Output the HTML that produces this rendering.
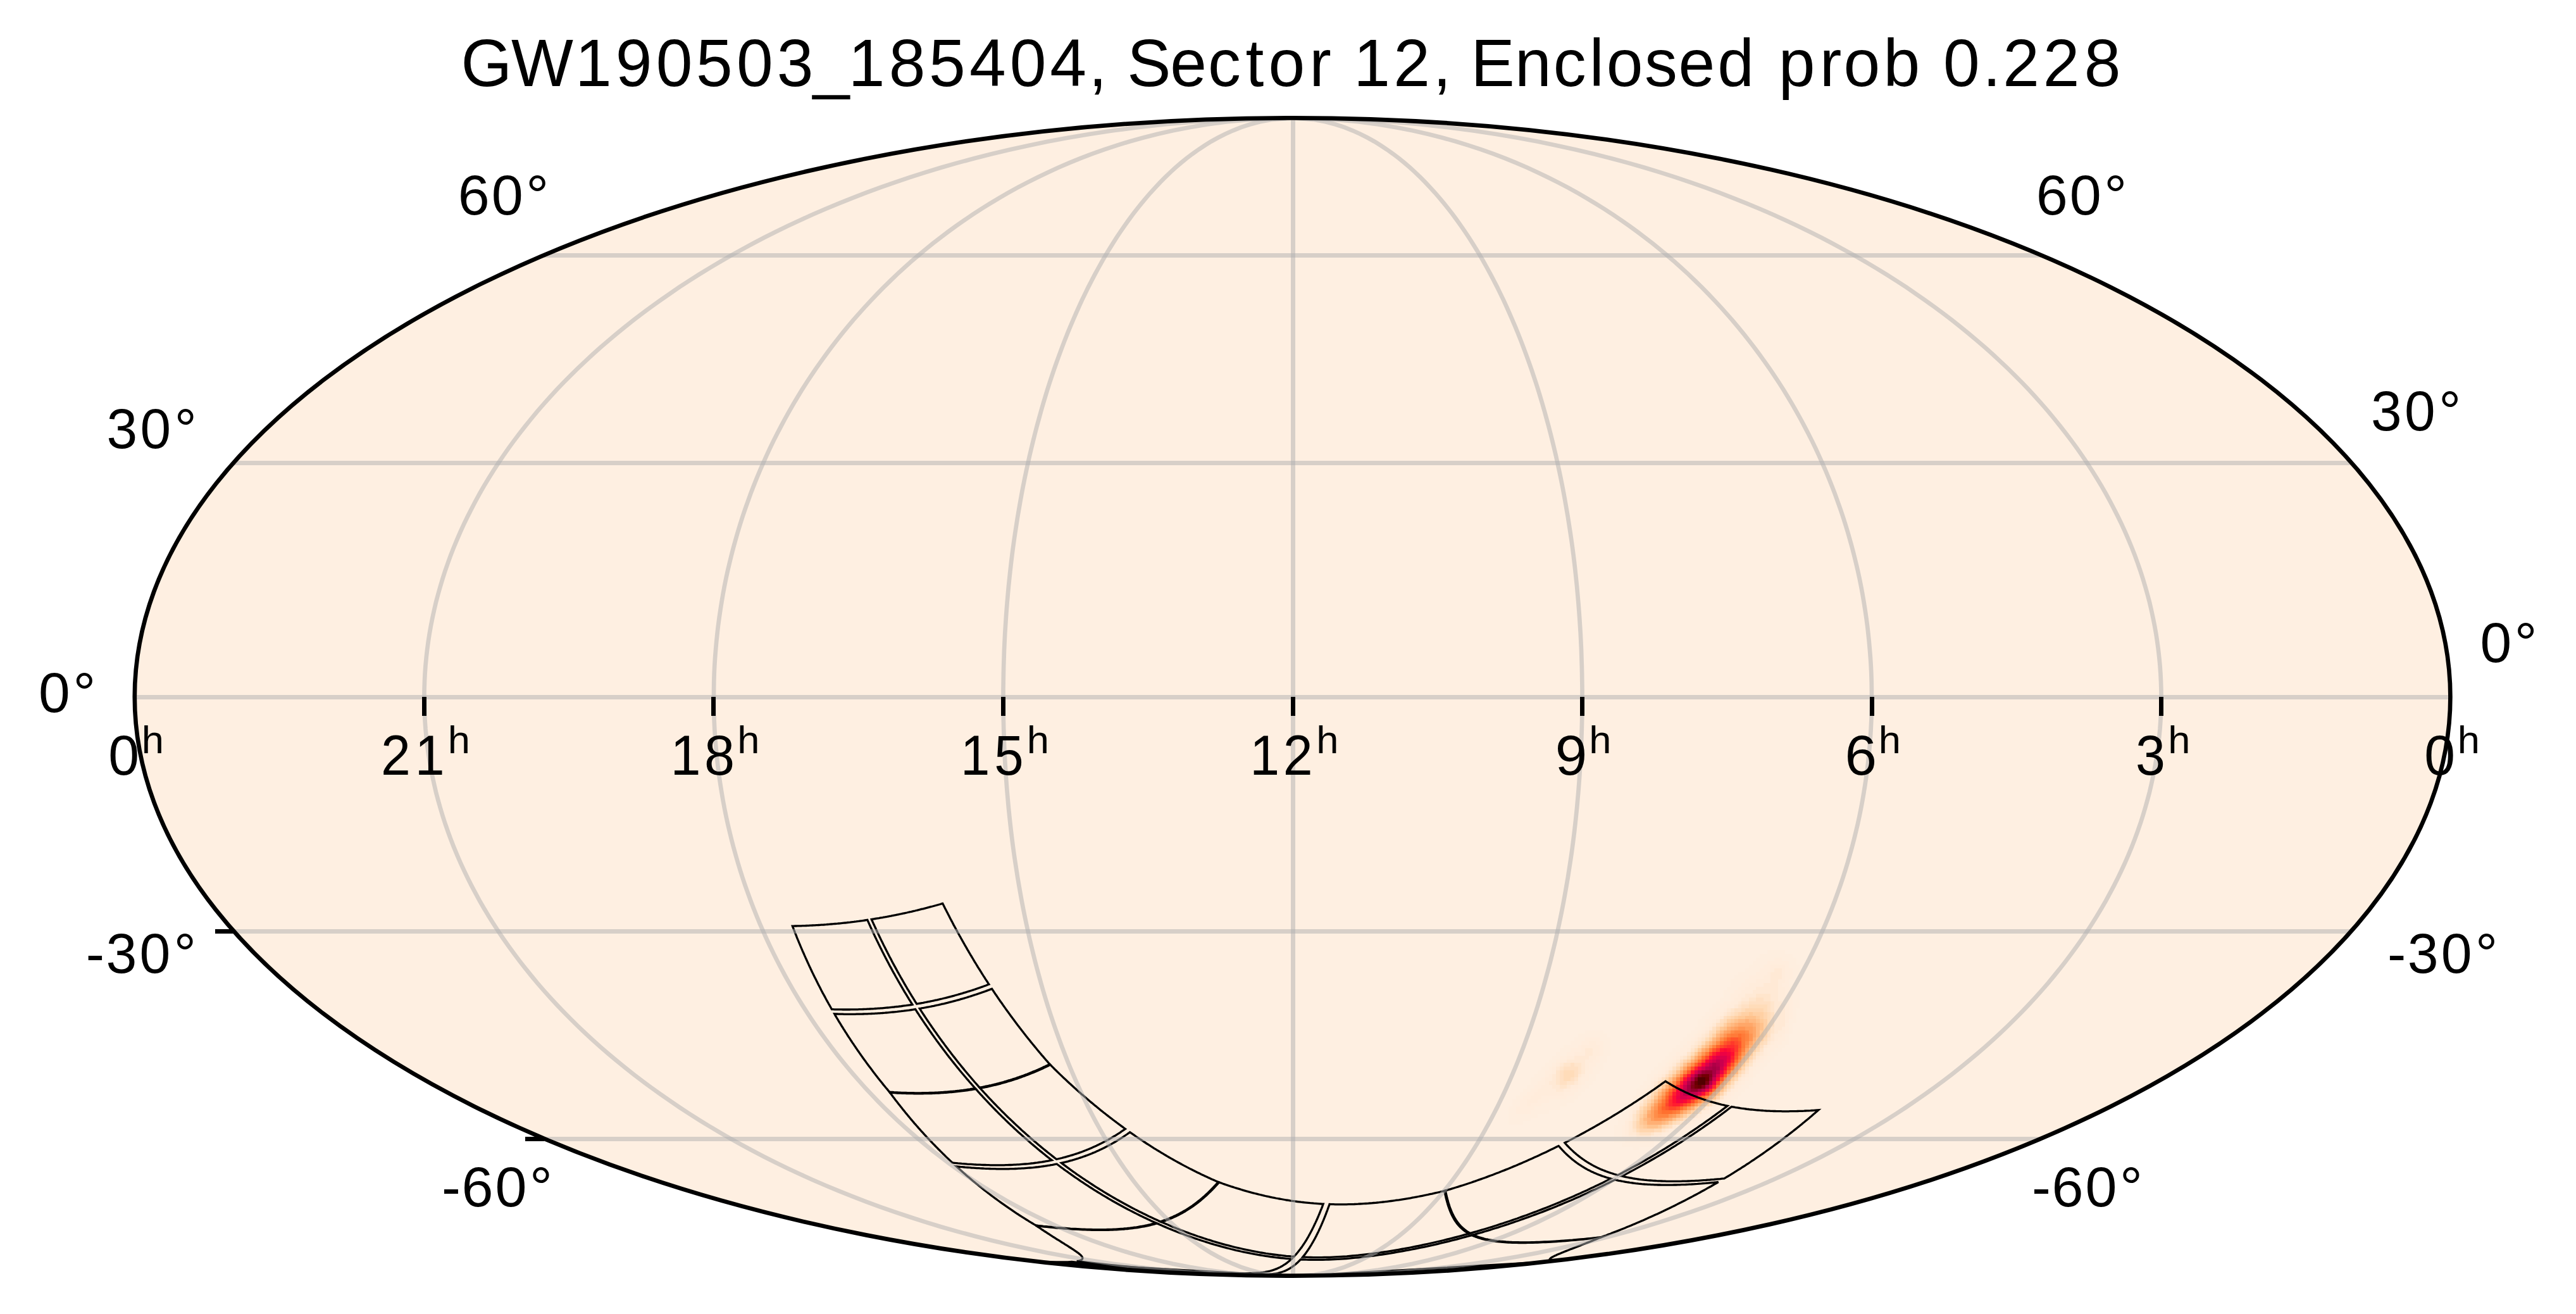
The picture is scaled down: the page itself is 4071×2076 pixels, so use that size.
<!DOCTYPE html>
<html lang="en">
<head>
<meta charset="utf-8">
<title>GW190503_185404, Sector 12, Enclosed prob 0.228</title>
<style>
html,body{margin:0;padding:0;background:#fff;}
body{width:4071px;height:2076px;overflow:hidden;}
svg{display:block;}
text{font-family:"Liberation Sans",sans-serif;fill:#000;}
</style>
</head>
<body>
<svg width="4071" height="2076" viewBox="0 0 4071 2076" role="img" aria-label="Mollweide sky map">
<defs><clipPath id="sky"><ellipse cx="2042.60" cy="1100.95" rx="1829.80" ry="914.65"/></clipPath></defs>
<rect width="4071" height="2076" fill="#ffffff"/>
<ellipse cx="2042.60" cy="1100.95" rx="1829.80" ry="914.65" fill="#feefe1"/>
<g clip-path="url(#sky)">
<g shape-rendering="crispEdges"><path fill="#feeedf" d="M2793 1501h28v6h-28zM2781 1507h52v6h-52zM2775 1513h29v5h-29zM2816 1513h23v5h-23zM2770 1518h23v6h-23zM2827 1518h12v6h-12zM2764 1524h23v6h-23zM2827 1524h17v6h-17zM2758 1530h23v6h-23zM2833 1530h11v6h-11zM2747 1536h28v5h-28zM2833 1536h11v5h-11zM2741 1541h23v6h-23zM2833 1541h11v6h-11zM2735 1547h23v6h-23zM2827 1547h17v6h-17zM2735 1553h17v6h-17zM2827 1553h17v6h-17zM2729 1559h18v5h-18zM2833 1559h11v5h-11zM2724 1564h17v6h-17zM2833 1564h11v6h-11zM2724 1570h11v6h-11zM2833 1570h11v6h-11zM2718 1576h17v6h-17zM2833 1576h11v6h-11zM2712 1582h12v5h-12zM2833 1582h11v5h-11zM2706 1587h12v6h-12zM2833 1587h11v6h-11zM2701 1593h11v6h-11zM2833 1593h6v6h-6zM2695 1599h11v6h-11zM2833 1599h6v6h-6zM2689 1605h12v5h-12zM2833 1605h6v5h-6zM2683 1610h12v6h-12zM2827 1610h12v6h-12zM2683 1616h12v6h-12zM2827 1616h6v6h-6zM2678 1622h11v6h-11zM2827 1622h6v6h-6zM2505 1628h29v5h-29zM2672 1628h11v5h-11zM2827 1628h6v5h-6zM2494 1633h46v6h-46zM2666 1633h12v6h-12zM2821 1633h6v6h-6zM2488 1639h17v6h-17zM2528 1639h17v6h-17zM2660 1639h12v6h-12zM2821 1639h6v6h-6zM2482 1645h17v6h-17zM2534 1645h11v6h-11zM2655 1645h11v6h-11zM2816 1645h11v6h-11zM2471 1651h23v5h-23zM2534 1651h11v5h-11zM2649 1651h11v5h-11zM2810 1651h11v5h-11zM2465 1656h17v6h-17zM2534 1656h11v6h-11zM2643 1656h12v6h-12zM2804 1656h12v6h-12zM2459 1662h17v6h-17zM2534 1662h11v6h-11zM2637 1662h12v6h-12zM2798 1662h12v6h-12zM2453 1668h12v6h-12zM2528 1668h12v6h-12zM2632 1668h11v6h-11zM2793 1668h11v6h-11zM2448 1674h11v5h-11zM2528 1674h12v5h-12zM2626 1674h11v5h-11zM2787 1674h11v5h-11zM2442 1679h11v6h-11zM2522 1679h12v6h-12zM2620 1679h12v6h-12zM2781 1679h12v6h-12zM2436 1685h12v6h-12zM2517 1685h17v6h-17zM2614 1685h12v6h-12zM2775 1685h12v6h-12zM2430 1691h12v6h-12zM2517 1691h11v6h-11zM2609 1691h11v6h-11zM2770 1691h11v6h-11zM2425 1697h17v5h-17zM2511 1697h11v5h-11zM2603 1697h11v5h-11zM2770 1697h5v5h-5zM2419 1702h17v6h-17zM2511 1702h11v6h-11zM2603 1702h6v6h-6zM2764 1702h6v6h-6zM2419 1708h11v6h-11zM2505 1708h12v6h-12zM2597 1708h12v6h-12zM2758 1708h12v6h-12zM2413 1714h12v6h-12zM2499 1714h12v6h-12zM2591 1714h12v6h-12zM2752 1714h12v6h-12zM2407 1720h12v5h-12zM2494 1720h11v5h-11zM2586 1720h11v5h-11zM2747 1720h11v5h-11zM2402 1725h11v6h-11zM2488 1725h11v6h-11zM2586 1725h5v6h-5zM2741 1725h11v6h-11zM2396 1731h11v6h-11zM2476 1731h18v6h-18zM2580 1731h6v6h-6zM2735 1731h12v6h-12zM2390 1737h12v6h-12zM2448 1737h40v6h-40zM2574 1737h12v6h-12zM2729 1737h12v6h-12zM2390 1743h12v5h-12zM2436 1743h40v5h-40zM2568 1743h12v5h-12zM2724 1743h11v5h-11zM2384 1748h12v6h-12zM2425 1748h40v6h-40zM2568 1748h6v6h-6zM2718 1748h11v6h-11zM2384 1754h12v6h-12zM2419 1754h29v6h-29zM2568 1754h6v6h-6zM2706 1754h12v6h-12zM2384 1760h46v6h-46zM2563 1760h11v6h-11zM2695 1760h17v6h-17zM2384 1766h35v5h-35zM2557 1766h11v5h-11zM2689 1766h12v5h-12zM2384 1771h23v6h-23zM2557 1771h11v6h-11zM2678 1771h11v6h-11zM2551 1777h12v6h-12zM2666 1777h17v6h-17zM2551 1783h12v6h-12zM2655 1783h17v6h-17zM2551 1789h12v5h-12zM2643 1789h17v5h-17zM2551 1794h12v6h-12zM2632 1794h17v6h-17zM2551 1800h17v6h-17zM2614 1800h18v6h-18zM2563 1806h51v6h-51zM2580 1812h11v5h-11z"/><path fill="#ffeddd" d="M2804 1513h12v5h-12zM2793 1518h34v6h-34zM2787 1524h11v6h-11zM2821 1524h6v6h-6zM2781 1530h17v6h-17zM2821 1530h12v6h-12zM2775 1536h18v5h-18zM2821 1536h12v5h-12zM2764 1541h23v6h-23zM2821 1541h12v6h-12zM2758 1547h17v6h-17zM2821 1547h6v6h-6zM2752 1553h12v6h-12zM2816 1553h11v6h-11zM2747 1559h11v5h-11zM2821 1559h12v5h-12zM2741 1564h11v6h-11zM2821 1564h12v6h-12zM2735 1570h12v6h-12zM2821 1570h12v6h-12zM2735 1576h6v6h-6zM2827 1576h6v6h-6zM2724 1582h11v5h-11zM2827 1582h6v5h-6zM2718 1587h11v6h-11zM2827 1587h6v6h-6zM2712 1593h12v6h-12zM2827 1593h6v6h-6zM2706 1599h12v6h-12zM2827 1599h6v6h-6zM2701 1605h11v5h-11zM2827 1605h6v5h-6zM2695 1610h11v6h-11zM2695 1616h6v6h-6zM2821 1616h6v6h-6zM2689 1622h6v6h-6zM2821 1622h6v6h-6zM2683 1628h6v5h-6zM2821 1628h6v5h-6zM2678 1633h5v6h-5zM2816 1633h5v6h-5zM2505 1639h23v6h-23zM2672 1639h6v6h-6zM2810 1639h11v6h-11zM2499 1645h12v6h-12zM2522 1645h12v6h-12zM2666 1645h6v6h-6zM2804 1645h12v6h-12zM2494 1651h5v5h-5zM2528 1651h6v5h-6zM2660 1651h12v5h-12zM2798 1651h12v5h-12zM2482 1656h17v6h-17zM2528 1656h6v6h-6zM2655 1656h11v6h-11zM2793 1656h11v6h-11zM2476 1662h12v6h-12zM2528 1662h6v6h-6zM2649 1662h11v6h-11zM2793 1662h5v6h-5zM2465 1668h11v6h-11zM2522 1668h6v6h-6zM2643 1668h6v6h-6zM2787 1668h6v6h-6zM2459 1674h6v5h-6zM2517 1674h11v5h-11zM2637 1674h6v5h-6zM2781 1674h6v5h-6zM2453 1679h6v6h-6zM2511 1679h11v6h-11zM2632 1679h5v6h-5zM2775 1679h6v6h-6zM2448 1685h5v6h-5zM2511 1685h6v6h-6zM2626 1685h6v6h-6zM2770 1685h5v6h-5zM2442 1691h11v6h-11zM2505 1691h12v6h-12zM2620 1691h6v6h-6zM2764 1691h6v6h-6zM2442 1697h6v5h-6zM2505 1697h6v5h-6zM2614 1697h6v5h-6zM2764 1697h6v5h-6zM2436 1702h6v6h-6zM2499 1702h12v6h-12zM2609 1702h5v6h-5zM2758 1702h6v6h-6zM2430 1708h12v6h-12zM2499 1708h6v6h-6zM2752 1708h6v6h-6zM2425 1714h11v6h-11zM2494 1714h5v6h-5zM2603 1714h6v6h-6zM2747 1714h5v6h-5zM2419 1720h11v5h-11zM2482 1720h12v5h-12zM2597 1720h6v5h-6zM2741 1720h6v5h-6zM2413 1725h12v6h-12zM2471 1725h17v6h-17zM2591 1725h6v6h-6zM2735 1725h6v6h-6zM2407 1731h12v6h-12zM2436 1731h40v6h-40zM2586 1731h5v6h-5zM2729 1731h6v6h-6zM2402 1737h11v6h-11zM2430 1737h18v6h-18zM2586 1737h5v6h-5zM2724 1737h5v6h-5zM2402 1743h11v5h-11zM2419 1743h17v5h-17zM2580 1743h6v5h-6zM2718 1743h6v5h-6zM2396 1748h29v6h-29zM2574 1748h6v6h-6zM2706 1748h12v6h-12zM2396 1754h23v6h-23zM2574 1754h6v6h-6zM2701 1754h5v6h-5zM2689 1760h6v6h-6zM2568 1766h6v5h-6zM2678 1766h11v5h-11zM2672 1771h6v6h-6zM2563 1777h5v6h-5zM2660 1777h6v6h-6zM2563 1783h5v6h-5zM2649 1783h6v6h-6zM2563 1789h5v5h-5zM2632 1789h11v5h-11zM2563 1794h11v6h-11zM2620 1794h12v6h-12zM2568 1800h46v6h-46z"/><path fill="#ffecdb" d="M2798 1524h23v6h-23zM2798 1530h6v6h-6zM2816 1530h5v6h-5zM2793 1536h5v5h-5zM2816 1536h5v5h-5zM2787 1541h11v6h-11zM2816 1541h5v6h-5zM2775 1547h23v6h-23zM2810 1547h11v6h-11zM2764 1553h23v6h-23zM2810 1553h6v6h-6zM2758 1559h17v5h-17zM2810 1559h11v5h-11zM2752 1564h18v6h-18zM2810 1564h11v6h-11zM2747 1570h11v6h-11zM2810 1570h11v6h-11zM2741 1576h11v6h-11zM2810 1576h17v6h-17zM2735 1582h12v5h-12zM2816 1582h11v5h-11zM2729 1587h12v6h-12zM2821 1587h6v6h-6zM2724 1593h5v6h-5zM2821 1593h6v6h-6zM2718 1599h6v6h-6zM2821 1599h6v6h-6zM2712 1605h6v5h-6zM2821 1605h6v5h-6zM2706 1610h6v6h-6zM2821 1610h6v6h-6zM2701 1616h5v6h-5zM2695 1622h6v6h-6zM2816 1622h5v6h-5zM2689 1628h6v5h-6zM2810 1628h11v5h-11zM2683 1633h6v6h-6zM2804 1633h12v6h-12zM2678 1639h5v6h-5zM2804 1639h6v6h-6zM2511 1645h11v6h-11zM2672 1645h6v6h-6zM2798 1645h6v6h-6zM2499 1651h29v5h-29zM2793 1651h5v5h-5zM2499 1656h6v6h-6zM2517 1656h11v6h-11zM2666 1656h6v6h-6zM2787 1656h6v6h-6zM2488 1662h17v6h-17zM2517 1662h11v6h-11zM2660 1662h6v6h-6zM2787 1662h6v6h-6zM2476 1668h12v6h-12zM2511 1668h11v6h-11zM2649 1668h6v6h-6zM2781 1668h6v6h-6zM2465 1674h11v5h-11zM2505 1674h12v5h-12zM2643 1674h6v5h-6zM2775 1674h6v5h-6zM2459 1679h6v6h-6zM2505 1679h6v6h-6zM2637 1679h6v6h-6zM2770 1679h5v6h-5zM2453 1685h6v6h-6zM2505 1685h6v6h-6zM2632 1685h5v6h-5zM2764 1685h6v6h-6zM2453 1691h6v6h-6zM2626 1691h6v6h-6zM2448 1697h5v5h-5zM2499 1697h6v5h-6zM2620 1697h6v5h-6zM2758 1697h6v5h-6zM2442 1702h11v6h-11zM2494 1702h5v6h-5zM2614 1702h6v6h-6zM2752 1702h6v6h-6zM2442 1708h6v6h-6zM2494 1708h5v6h-5zM2609 1708h5v6h-5zM2747 1708h5v6h-5zM2436 1714h17v6h-17zM2482 1714h12v6h-12zM2609 1714h5v6h-5zM2741 1714h6v6h-6zM2430 1720h29v5h-29zM2471 1720h11v5h-11zM2603 1720h6v5h-6zM2735 1720h6v5h-6zM2425 1725h46v6h-46zM2597 1725h6v6h-6zM2729 1725h6v6h-6zM2419 1731h17v6h-17zM2591 1731h6v6h-6zM2724 1731h5v6h-5zM2413 1737h17v6h-17zM2718 1737h6v6h-6zM2413 1743h6v5h-6zM2586 1743h5v5h-5zM2712 1743h6v5h-6zM2580 1748h6v6h-6zM2701 1748h5v6h-5zM2689 1754h12v6h-12zM2574 1760h6v6h-6zM2683 1760h6v6h-6zM2574 1766h6v5h-6zM2672 1766h6v5h-6zM2568 1771h6v6h-6zM2666 1771h6v6h-6zM2568 1777h6v6h-6zM2649 1777h11v6h-11zM2568 1783h6v6h-6zM2637 1783h12v6h-12zM2568 1789h6v5h-6zM2626 1789h6v5h-6zM2574 1794h12v6h-12zM2609 1794h11v6h-11z"/><path fill="#ffe9d5" d="M2804 1530h12v6h-12zM2798 1536h18v5h-18zM2798 1541h18v6h-18zM2798 1547h12v6h-12zM2787 1553h23v6h-23zM2775 1559h35v5h-35zM2770 1564h40v6h-40zM2758 1570h17v6h-17zM2798 1570h12v6h-12zM2752 1576h12v6h-12zM2798 1576h12v6h-12zM2747 1582h5v5h-5zM2804 1582h12v5h-12zM2741 1587h6v6h-6zM2804 1587h17v6h-17zM2729 1593h6v6h-6zM2804 1593h17v6h-17zM2724 1599h5v6h-5zM2804 1599h17v6h-17zM2718 1605h6v5h-6zM2804 1605h17v5h-17zM2712 1610h6v6h-6zM2804 1610h17v6h-17zM2706 1616h6v6h-6zM2804 1616h17v6h-17zM2701 1622h5v6h-5zM2804 1622h12v6h-12zM2695 1628h6v5h-6zM2804 1628h6v5h-6zM2689 1633h6v6h-6zM2798 1633h6v6h-6zM2683 1639h6v6h-6zM2798 1639h6v6h-6zM2678 1645h5v6h-5zM2793 1645h5v6h-5zM2672 1651h6v5h-6zM2787 1651h6v5h-6zM2505 1656h12v6h-12zM2505 1662h12v6h-12zM2781 1662h6v6h-6zM2488 1668h23v6h-23zM2655 1668h5v6h-5zM2775 1668h6v6h-6zM2476 1674h29v5h-29zM2649 1674h6v5h-6zM2770 1674h5v5h-5zM2465 1679h6v6h-6zM2499 1679h6v6h-6zM2643 1679h6v6h-6zM2459 1685h6v6h-6zM2499 1685h6v6h-6zM2637 1685h6v6h-6zM2499 1691h6v6h-6zM2632 1691h5v6h-5zM2758 1691h6v6h-6zM2453 1697h6v5h-6zM2494 1697h5v5h-5zM2626 1697h6v5h-6zM2752 1697h6v5h-6zM2453 1702h6v6h-6zM2620 1702h6v6h-6zM2747 1702h5v6h-5zM2448 1708h11v6h-11zM2488 1708h6v6h-6zM2614 1708h6v6h-6zM2741 1708h6v6h-6zM2453 1714h12v6h-12zM2476 1714h6v6h-6zM2459 1720h12v5h-12zM2603 1725h6v6h-6zM2597 1731h6v6h-6zM2591 1737h6v6h-6zM2706 1743h6v5h-6zM2586 1748h5v6h-5zM2695 1748h6v6h-6zM2580 1754h6v6h-6zM2678 1760h5v6h-5zM2666 1766h6v5h-6zM2574 1771h6v6h-6zM2660 1771h6v6h-6zM2574 1777h6v6h-6zM2643 1777h6v6h-6zM2574 1783h6v6h-6zM2632 1783h5v6h-5zM2574 1789h12v5h-12zM2614 1789h12v5h-12zM2586 1794h23v6h-23z"/><path fill="#ffe5cc" d="M2775 1570h23v6h-23zM2764 1576h11v6h-11zM2787 1576h11v6h-11zM2752 1582h12v5h-12zM2798 1582h6v5h-6zM2747 1587h5v6h-5zM2798 1587h6v6h-6zM2735 1593h6v6h-6zM2798 1593h6v6h-6zM2729 1599h6v6h-6zM2798 1622h6v6h-6zM2798 1628h6v5h-6zM2695 1633h6v6h-6zM2689 1639h6v6h-6zM2793 1639h5v6h-5zM2683 1645h6v6h-6zM2678 1651h5v5h-5zM2672 1656h6v6h-6zM2781 1656h6v6h-6zM2666 1662h6v6h-6zM2775 1662h6v6h-6zM2660 1668h6v6h-6zM2471 1679h11v6h-11zM2488 1679h11v6h-11zM2764 1679h6v6h-6zM2465 1685h6v6h-6zM2494 1685h5v6h-5zM2758 1685h6v6h-6zM2459 1691h6v6h-6zM2494 1691h5v6h-5zM2459 1697h6v5h-6zM2459 1702h6v6h-6zM2488 1702h6v6h-6zM2459 1708h6v6h-6zM2476 1708h12v6h-12zM2465 1714h11v6h-11zM2614 1714h6v6h-6zM2735 1714h6v6h-6zM2609 1720h5v5h-5zM2729 1720h6v5h-6zM2724 1725h5v6h-5zM2718 1731h6v6h-6zM2712 1737h6v6h-6zM2591 1743h6v5h-6zM2683 1754h6v6h-6zM2580 1760h6v6h-6zM2580 1766h6v5h-6zM2655 1771h5v6h-5zM2580 1783h6v6h-6zM2626 1783h6v6h-6zM2586 1789h5v5h-5zM2609 1789h5v5h-5z"/><path fill="#ffe0c3" d="M2775 1576h12v6h-12zM2764 1582h34v5h-34zM2752 1587h12v6h-12zM2793 1587h5v6h-5zM2741 1593h11v6h-11zM2793 1593h5v6h-5zM2735 1599h6v6h-6zM2798 1599h6v6h-6zM2724 1605h5v5h-5zM2798 1605h6v5h-6zM2718 1610h6v6h-6zM2798 1610h6v6h-6zM2712 1616h6v6h-6zM2798 1616h6v6h-6zM2706 1622h6v6h-6zM2701 1628h5v5h-5zM2793 1628h5v5h-5zM2793 1633h5v6h-5zM2787 1645h6v6h-6zM2781 1651h6v5h-6zM2770 1668h5v6h-5zM2655 1674h5v5h-5zM2764 1674h6v5h-6zM2482 1679h6v6h-6zM2649 1679h6v6h-6zM2471 1685h23v6h-23zM2643 1685h6v6h-6zM2465 1691h6v6h-6zM2488 1691h6v6h-6zM2637 1691h6v6h-6zM2752 1691h6v6h-6zM2465 1697h6v5h-6zM2488 1697h6v5h-6zM2632 1697h5v5h-5zM2747 1697h5v5h-5zM2465 1702h6v6h-6zM2482 1702h6v6h-6zM2626 1702h6v6h-6zM2465 1708h11v6h-11zM2620 1708h6v6h-6zM2603 1731h6v6h-6zM2597 1737h6v6h-6zM2701 1743h5v5h-5zM2689 1748h6v6h-6zM2586 1754h5v6h-5zM2672 1760h6v6h-6zM2660 1766h6v5h-6zM2580 1771h6v6h-6zM2649 1771h6v6h-6zM2580 1777h6v6h-6zM2637 1777h6v6h-6zM2591 1789h18v5h-18z"/><path fill="#ffdcb9" d="M2764 1587h29v6h-29zM2752 1593h6v6h-6zM2787 1593h6v6h-6zM2741 1599h6v6h-6zM2793 1599h5v6h-5zM2729 1605h6v5h-6zM2793 1605h5v5h-5zM2724 1610h5v6h-5zM2793 1610h5v6h-5zM2718 1616h6v6h-6zM2793 1616h5v6h-5zM2793 1622h5v6h-5zM2706 1628h6v5h-6zM2701 1633h5v6h-5zM2695 1639h6v6h-6zM2787 1639h6v6h-6zM2689 1645h6v6h-6zM2781 1645h6v6h-6zM2683 1651h6v5h-6zM2678 1656h5v6h-5zM2775 1656h6v6h-6zM2672 1662h6v6h-6zM2770 1662h5v6h-5zM2666 1668h6v6h-6zM2758 1679h6v6h-6zM2471 1691h17v6h-17zM2471 1697h17v5h-17zM2471 1702h11v6h-11zM2741 1702h6v6h-6zM2735 1708h6v6h-6zM2620 1714h6v6h-6zM2729 1714h6v6h-6zM2614 1720h6v5h-6zM2609 1725h5v6h-5zM2706 1737h6v6h-6zM2597 1743h6v5h-6zM2591 1748h6v6h-6zM2678 1754h5v6h-5zM2586 1760h5v6h-5zM2666 1760h6v6h-6zM2586 1766h5v5h-5zM2643 1771h6v6h-6zM2632 1777h5v6h-5zM2586 1783h5v6h-5zM2614 1783h12v6h-12z"/><path fill="#ffd6af" d="M2758 1593h29v6h-29zM2747 1599h5v6h-5zM2787 1599h6v6h-6zM2735 1605h6v5h-6zM2787 1605h6v5h-6zM2712 1622h6v6h-6zM2787 1628h6v5h-6zM2787 1633h6v6h-6zM2775 1651h6v5h-6zM2764 1668h6v6h-6zM2660 1674h6v5h-6zM2655 1679h5v6h-5zM2649 1685h6v6h-6zM2752 1685h6v6h-6zM2643 1691h6v6h-6zM2747 1691h5v6h-5zM2637 1697h6v5h-6zM2632 1702h5v6h-5zM2626 1708h6v6h-6zM2724 1720h5v5h-5zM2718 1725h6v6h-6zM2609 1731h5v6h-5zM2712 1731h6v6h-6zM2603 1737h6v6h-6zM2695 1743h6v5h-6zM2683 1748h6v6h-6zM2591 1754h6v6h-6zM2655 1766h5v5h-5zM2586 1771h5v6h-5zM2586 1777h5v6h-5zM2626 1777h6v6h-6zM2591 1783h23v6h-23z"/><path fill="#ffd0a4" d="M2752 1599h12v6h-12zM2770 1599h17v6h-17zM2741 1605h6v5h-6zM2781 1605h6v5h-6zM2729 1610h6v6h-6zM2787 1610h6v6h-6zM2724 1616h5v6h-5zM2787 1616h6v6h-6zM2787 1622h6v6h-6zM2706 1633h6v6h-6zM2701 1639h5v6h-5zM2781 1639h6v6h-6zM2770 1656h5v6h-5zM2758 1674h6v5h-6zM2741 1697h6v5h-6zM2735 1702h6v6h-6zM2614 1725h6v6h-6zM2701 1737h5v6h-5zM2597 1748h6v6h-6zM2672 1754h6v6h-6zM2591 1760h6v6h-6zM2660 1760h6v6h-6zM2649 1766h6v5h-6zM2637 1771h6v6h-6zM2591 1777h6v6h-6z"/><path fill="#ffca99" d="M2764 1599h6v6h-6zM2747 1605h11v5h-11zM2775 1605h6v5h-6zM2735 1610h6v6h-6zM2781 1610h6v6h-6zM2718 1622h6v6h-6zM2712 1628h6v5h-6zM2781 1628h6v5h-6zM2781 1633h6v6h-6zM2695 1645h6v6h-6zM2775 1645h6v6h-6zM2689 1651h6v5h-6zM2683 1656h6v6h-6zM2678 1662h5v6h-5zM2764 1662h6v6h-6zM2672 1668h6v6h-6zM2666 1674h6v5h-6zM2752 1679h6v6h-6zM2632 1708h5v6h-5zM2729 1708h6v6h-6zM2626 1714h6v6h-6zM2724 1714h5v6h-5zM2620 1720h6v5h-6zM2609 1737h5v6h-5zM2603 1743h6v5h-6zM2689 1743h6v5h-6zM2678 1748h5v6h-5zM2597 1754h6v6h-6zM2591 1766h6v5h-6zM2591 1771h6v6h-6zM2597 1777h6v6h-6zM2620 1777h6v6h-6z"/><path fill="#ffc28d" d="M2758 1605h17v5h-17zM2741 1610h6v6h-6zM2775 1610h6v6h-6zM2729 1616h6v6h-6zM2781 1616h6v6h-6zM2724 1622h5v6h-5zM2781 1622h6v6h-6zM2775 1639h6v6h-6zM2770 1651h5v5h-5zM2764 1656h6v6h-6zM2758 1668h6v6h-6zM2660 1679h6v6h-6zM2655 1685h5v6h-5zM2747 1685h5v6h-5zM2649 1691h6v6h-6zM2643 1697h6v5h-6zM2637 1702h6v6h-6zM2718 1720h6v5h-6zM2712 1725h6v6h-6zM2614 1731h6v6h-6zM2706 1731h6v6h-6zM2603 1748h6v6h-6zM2666 1754h6v6h-6zM2597 1760h6v6h-6zM2655 1760h5v6h-5zM2643 1766h6v5h-6zM2597 1771h6v6h-6zM2632 1771h5v6h-5zM2603 1777h17v6h-17z"/><path fill="#ffb981" d="M2747 1610h11v6h-11zM2764 1610h11v6h-11zM2735 1616h6v6h-6zM2775 1616h6v6h-6zM2775 1622h6v6h-6zM2718 1628h6v5h-6zM2775 1628h6v5h-6zM2712 1633h6v6h-6zM2775 1633h6v6h-6zM2706 1639h6v6h-6zM2701 1645h5v6h-5zM2770 1645h5v6h-5zM2695 1651h6v5h-6zM2752 1674h6v5h-6zM2741 1691h6v6h-6zM2735 1697h6v5h-6zM2620 1725h6v6h-6zM2695 1737h6v6h-6zM2609 1743h5v5h-5zM2683 1743h6v5h-6zM2597 1766h6v5h-6zM2626 1771h6v6h-6z"/><path fill="#ffb075" d="M2758 1610h6v6h-6zM2741 1616h6v6h-6zM2770 1616h5v6h-5zM2729 1622h6v6h-6zM2770 1639h5v6h-5zM2764 1651h6v5h-6zM2689 1656h6v6h-6zM2683 1662h6v6h-6zM2758 1662h6v6h-6zM2678 1668h5v6h-5zM2672 1674h6v5h-6zM2747 1679h5v6h-5zM2729 1702h6v6h-6zM2637 1708h6v6h-6zM2724 1708h5v6h-5zM2632 1714h5v6h-5zM2626 1720h6v5h-6zM2614 1737h6v6h-6zM2672 1748h6v6h-6zM2603 1754h6v6h-6zM2660 1754h6v6h-6zM2649 1760h6v6h-6zM2603 1766h6v5h-6zM2637 1766h6v5h-6zM2603 1771h23v6h-23z"/><path fill="#ffa769" d="M2747 1616h23v6h-23zM2735 1622h6v6h-6zM2770 1622h5v6h-5zM2724 1628h5v5h-5zM2770 1628h5v5h-5zM2718 1633h6v6h-6zM2770 1633h5v6h-5zM2712 1639h6v6h-6zM2706 1645h6v6h-6zM2764 1645h6v6h-6zM2758 1656h6v6h-6zM2752 1668h6v6h-6zM2666 1679h6v6h-6zM2660 1685h6v6h-6zM2741 1685h6v6h-6zM2655 1691h5v6h-5zM2649 1697h6v5h-6zM2643 1702h6v6h-6zM2718 1714h6v6h-6zM2620 1731h6v6h-6zM2701 1731h5v6h-5zM2689 1737h6v6h-6zM2609 1748h5v6h-5zM2603 1760h6v6h-6zM2632 1766h5v5h-5z"/><path fill="#ff9f5e" d="M2741 1622h6v6h-6zM2758 1622h12v6h-12zM2729 1628h6v5h-6zM2764 1628h6v5h-6zM2701 1651h5v5h-5zM2695 1656h6v6h-6zM2735 1691h6v6h-6zM2712 1720h6v5h-6zM2626 1725h6v6h-6zM2706 1725h6v6h-6zM2614 1743h6v5h-6zM2678 1743h5v5h-5zM2666 1748h6v6h-6zM2609 1754h5v6h-5zM2655 1754h5v6h-5zM2609 1760h5v6h-5zM2643 1760h6v6h-6zM2609 1766h5v5h-5zM2626 1766h6v5h-6z"/><path fill="#ff9654" d="M2747 1622h11v6h-11zM2724 1633h5v6h-5zM2764 1633h6v6h-6zM2764 1639h6v6h-6zM2758 1651h6v5h-6zM2689 1662h6v6h-6zM2752 1662h6v6h-6zM2683 1668h6v6h-6zM2678 1674h5v5h-5zM2747 1674h5v5h-5zM2729 1697h6v5h-6zM2637 1714h6v6h-6zM2632 1720h5v5h-5zM2620 1737h6v6h-6zM2614 1748h6v6h-6zM2637 1760h6v6h-6zM2614 1766h12v5h-12z"/><path fill="#ff8d49" d="M2735 1628h6v5h-6zM2758 1628h6v5h-6zM2718 1639h6v6h-6zM2712 1645h6v6h-6zM2758 1645h6v6h-6zM2672 1679h6v6h-6zM2741 1679h6v6h-6zM2724 1702h5v6h-5zM2643 1708h6v6h-6zM2626 1731h6v6h-6zM2695 1731h6v6h-6zM2683 1737h6v6h-6zM2614 1754h6v6h-6zM2614 1760h6v6h-6z"/><path fill="#ff8440" d="M2741 1628h17v5h-17zM2729 1633h6v6h-6zM2758 1633h6v6h-6zM2758 1639h6v6h-6zM2706 1651h6v5h-6zM2752 1656h6v6h-6zM2747 1668h5v6h-5zM2666 1685h6v6h-6zM2660 1691h6v6h-6zM2655 1697h5v5h-5zM2649 1702h6v6h-6zM2718 1708h6v6h-6zM2620 1743h6v5h-6zM2672 1743h6v5h-6zM2660 1748h6v6h-6zM2649 1754h6v6h-6zM2620 1760h17v6h-17z"/><path fill="#ff7a38" d="M2735 1633h12v6h-12zM2752 1633h6v6h-6zM2724 1639h5v6h-5zM2752 1639h6v6h-6zM2752 1645h6v6h-6zM2752 1651h6v5h-6zM2701 1656h5v6h-5zM2695 1662h6v6h-6zM2735 1685h6v6h-6zM2712 1714h6v6h-6zM2632 1725h5v6h-5zM2701 1725h5v6h-5zM2626 1737h6v6h-6zM2620 1748h6v6h-6zM2620 1754h6v6h-6zM2643 1754h6v6h-6z"/><path fill="#ff702f" d="M2747 1633h5v6h-5zM2718 1645h6v6h-6zM2747 1662h5v6h-5zM2689 1668h6v6h-6zM2683 1674h6v5h-6zM2741 1674h6v5h-6zM2729 1691h6v6h-6zM2643 1714h6v6h-6zM2637 1720h6v5h-6zM2706 1720h6v5h-6zM2689 1731h6v6h-6zM2678 1737h5v6h-5zM2626 1743h6v5h-6zM2655 1748h5v6h-5zM2626 1754h17v6h-17z"/><path fill="#ff642a" d="M2729 1639h6v6h-6zM2747 1639h5v6h-5zM2712 1651h6v5h-6zM2747 1656h5v6h-5zM2678 1679h5v6h-5zM2724 1697h5v5h-5zM2649 1708h6v6h-6zM2632 1731h5v6h-5zM2666 1743h6v5h-6zM2626 1748h6v6h-6z"/><path fill="#ff562a" d="M2735 1639h12v6h-12zM2724 1645h5v6h-5zM2747 1645h5v6h-5zM2747 1651h5v5h-5zM2706 1656h6v6h-6zM2741 1668h6v6h-6zM2735 1679h6v6h-6zM2672 1685h6v6h-6zM2666 1691h6v6h-6zM2655 1702h5v6h-5zM2718 1702h6v6h-6zM2637 1725h6v6h-6zM2632 1737h5v6h-5zM2632 1748h5v6h-5zM2649 1748h6v6h-6z"/><path fill="#ff482a" d="M2729 1645h6v6h-6zM2741 1645h6v6h-6zM2718 1651h6v5h-6zM2701 1662h5v6h-5zM2741 1662h6v6h-6zM2695 1668h6v6h-6zM2689 1674h6v5h-6zM2729 1685h6v6h-6zM2660 1697h6v5h-6zM2712 1708h6v6h-6zM2643 1720h6v5h-6zM2695 1725h6v6h-6zM2683 1731h6v6h-6zM2672 1737h6v6h-6zM2632 1743h5v5h-5zM2660 1743h6v5h-6zM2637 1748h12v6h-12z"/><path fill="#ff3a2a" d="M2735 1645h6v6h-6zM2724 1651h5v5h-5zM2741 1651h6v5h-6zM2712 1656h6v6h-6zM2741 1656h6v6h-6zM2683 1679h6v6h-6zM2637 1731h6v6h-6z"/><path fill="#ff2c2d" d="M2729 1651h12v5h-12zM2735 1674h6v5h-6zM2724 1691h5v6h-5zM2649 1714h6v6h-6zM2706 1714h6v6h-6zM2701 1720h5v5h-5zM2637 1737h6v6h-6zM2637 1743h6v5h-6zM2655 1743h5v5h-5z"/><path fill="#ff1e2f" d="M2735 1656h6v6h-6zM2706 1662h6v6h-6zM2735 1668h6v6h-6zM2729 1679h6v6h-6zM2678 1685h5v6h-5zM2718 1697h6v5h-6zM2655 1708h5v6h-5zM2643 1725h6v6h-6zM2666 1737h6v6h-6zM2643 1743h12v5h-12z"/><path fill="#ff1032" d="M2718 1656h6v6h-6zM2729 1656h6v6h-6zM2735 1662h6v6h-6zM2701 1668h5v6h-5zM2672 1691h6v6h-6zM2666 1697h6v5h-6zM2660 1702h6v6h-6zM2689 1725h6v6h-6zM2643 1731h6v6h-6zM2678 1731h5v6h-5zM2643 1737h6v6h-6z"/><path fill="#fb0837" d="M2724 1656h5v6h-5zM2712 1662h6v6h-6zM2695 1674h6v5h-6zM2689 1679h6v6h-6zM2724 1685h5v6h-5zM2712 1702h6v6h-6zM2649 1720h6v5h-6zM2660 1737h6v6h-6z"/><path fill="#f3053e" d="M2729 1662h6v6h-6zM2729 1674h6v5h-6zM2655 1714h5v6h-5zM2649 1725h6v6h-6zM2672 1731h6v6h-6zM2649 1737h11v6h-11z"/><path fill="#ec0244" d="M2718 1662h11v6h-11zM2706 1668h6v6h-6zM2729 1668h6v6h-6zM2683 1685h6v6h-6zM2718 1691h6v6h-6zM2706 1708h6v6h-6zM2695 1720h6v5h-6zM2649 1731h6v6h-6z"/><path fill="#e4004a" d="M2701 1674h5v5h-5zM2724 1679h5v6h-5zM2712 1697h6v5h-6zM2660 1708h6v6h-6zM2701 1714h5v6h-5zM2683 1725h6v6h-6zM2666 1731h6v6h-6z"/><path fill="#db004b" d="M2712 1668h17v6h-17zM2724 1674h5v5h-5zM2695 1679h6v6h-6zM2678 1691h5v6h-5zM2666 1702h6v6h-6zM2655 1720h5v5h-5zM2655 1725h5v6h-5zM2655 1731h11v6h-11z"/><path fill="#d3004c" d="M2706 1674h6v5h-6zM2689 1685h6v6h-6zM2718 1685h6v6h-6zM2672 1697h6v5h-6z"/><path fill="#ca004e" d="M2718 1674h6v5h-6zM2718 1679h6v6h-6zM2706 1702h6v6h-6zM2660 1714h6v6h-6zM2678 1725h5v6h-5z"/><path fill="#c1004c" d="M2712 1674h6v5h-6zM2701 1679h5v6h-5zM2712 1691h6v6h-6zM2660 1720h6v5h-6zM2689 1720h6v5h-6zM2660 1725h6v6h-6zM2672 1725h6v6h-6z"/><path fill="#b8004a" d="M2712 1679h6v6h-6zM2695 1685h6v6h-6zM2683 1691h6v6h-6zM2666 1708h6v6h-6zM2666 1725h6v6h-6z"/><path fill="#af0047" d="M2706 1679h6v6h-6zM2701 1685h5v6h-5zM2712 1685h6v6h-6zM2706 1697h6v5h-6zM2672 1702h6v6h-6zM2701 1708h5v6h-5zM2695 1714h6v6h-6z"/><path fill="#a60042" d="M2706 1685h6v6h-6zM2706 1691h6v6h-6zM2678 1697h5v5h-5zM2666 1714h6v6h-6zM2666 1720h6v5h-6zM2683 1720h6v5h-6z"/><path fill="#9d0037" d="M2689 1691h6v6h-6z"/><path fill="#95002c" d="M2695 1691h11v6h-11zM2701 1702h5v6h-5zM2672 1720h11v5h-11z"/><path fill="#8c0021" d="M2701 1697h5v5h-5zM2672 1708h6v6h-6z"/><path fill="#840017" d="M2683 1697h6v5h-6zM2678 1702h5v6h-5zM2672 1714h6v6h-6zM2689 1714h6v6h-6z"/><path fill="#7b000e" d="M2695 1708h6v6h-6z"/><path fill="#730005" d="M2689 1697h12v5h-12zM2678 1714h5v6h-5z"/><path fill="#690000" d="M2695 1702h6v6h-6zM2678 1708h5v6h-5zM2683 1714h6v6h-6z"/><path fill="#520000" d="M2683 1702h12v6h-12zM2683 1708h12v6h-12z"/></g>
<g fill="none" stroke="#000" stroke-width="3.3" stroke-linejoin="miter">
<path d="M1453.4 1593.4 L1455.4 1593.1 L1457.4 1592.7 L1459.5 1592.4 L1461.5 1592 L1463.5 1591.6 L1465.5 1591.2 L1467.5 1590.9 L1469.5 1590.5 L1471.5 1590.1 L1473.5 1589.7 L1475.5 1589.3 L1477.5 1588.8 L1479.5 1588.4 L1481.5 1588 L1483.4 1587.6 L1485.4 1587.1 L1487.4 1586.7 L1489.3 1586.2 L1491.3 1585.8 L1493.3 1585.3 L1495.2 1584.8 L1497.2 1584.4 L1499.1 1583.9 L1501 1583.4 L1503 1582.9 L1504.9 1582.4 L1506.8 1581.9 L1508.7 1581.4 L1510.6 1580.9 L1512.5 1580.3 L1514.4 1579.8 L1516.3 1579.3 L1518.2 1578.7 L1520.1 1578.2 L1522 1577.6 L1523.9 1577.1 L1525.8 1576.5 L1527.6 1576 L1529.5 1575.4 L1531.4 1574.8 L1533.2 1574.2 L1535.1 1573.6 L1536.9 1573 L1538.8 1572.4 L1540.6 1571.8 L1542.4 1571.2 L1544.3 1570.6 L1546.1 1570 L1547.9 1569.4 L1549.7 1568.8 L1551.5 1568.1 L1553.3 1567.5 L1555.1 1566.9 L1556.9 1566.2 L1558.7 1565.6 L1560.5 1564.9 L1562.3 1564.2 L1564 1563.6 L1565.8 1562.9 L1567.6 1562.2 L1569 1564.4 L1570.4 1566.5 L1571.8 1568.6 L1573.2 1570.7 L1574.7 1572.8 L1576.1 1574.9 L1577.5 1577 L1579 1579.1 L1580.4 1581.2 L1581.9 1583.3 L1583.4 1585.3 L1584.8 1587.4 L1586.3 1589.5 L1587.8 1591.6 L1589.2 1593.6 L1590.7 1595.7 L1592.2 1597.8 L1593.7 1599.8 L1595.2 1601.9 L1596.7 1604 L1598.2 1606 L1599.7 1608 L1601.2 1610.1 L1602.7 1612.1 L1604.3 1614.2 L1605.8 1616.2 L1607.3 1618.2 L1608.8 1620.2 L1610.4 1622.2 L1611.9 1624.3 L1613.5 1626.3 L1615 1628.3 L1616.6 1630.3 L1618.1 1632.3 L1619.7 1634.2 L1621.2 1636.2 L1622.8 1638.2 L1624.4 1640.2 L1626 1642.2 L1627.5 1644.1 L1629.1 1646.1 L1630.7 1648 L1632.3 1650 L1633.9 1651.9 L1635.5 1653.9 L1637.1 1655.8 L1638.7 1657.7 L1640.3 1659.7 L1641.9 1661.6 L1643.5 1663.5 L1645.1 1665.4 L1646.7 1667.3 L1648.4 1669.2 L1650 1671.1 L1651.6 1673 L1653.2 1674.9 L1654.9 1676.7 L1656.5 1678.6 L1658.1 1680.5 L1659.8 1682.3 L1658.1 1683.1 L1656.5 1683.9 L1654.8 1684.7 L1653.2 1685.5 L1651.5 1686.3 L1649.8 1687.1 L1648.1 1687.9 L1646.4 1688.7 L1644.7 1689.4 L1643 1690.2 L1641.3 1690.9 L1639.6 1691.7 L1637.9 1692.4 L1636.1 1693.2 L1634.4 1693.9 L1632.7 1694.6 L1630.9 1695.3 L1629.2 1696.1 L1627.4 1696.8 L1625.6 1697.5 L1623.8 1698.1 L1622 1698.8 L1620.3 1699.5 L1618.5 1700.2 L1616.6 1700.8 L1614.8 1701.5 L1613 1702.1 L1611.2 1702.8 L1609.4 1703.4 L1607.5 1704.1 L1605.7 1704.7 L1603.8 1705.3 L1601.9 1705.9 L1600.1 1706.5 L1598.2 1707.1 L1596.3 1707.7 L1594.4 1708.2 L1592.5 1708.8 L1590.6 1709.4 L1588.7 1709.9 L1586.8 1710.5 L1584.9 1711 L1582.9 1711.5 L1581 1712.1 L1579 1712.6 L1577.1 1713.1 L1575.1 1713.6 L1573.2 1714.1 L1571.2 1714.5 L1569.2 1715 L1567.2 1715.5 L1565.2 1715.9 L1563.2 1716.4 L1561.2 1716.8 L1559.2 1717.3 L1557.2 1717.7 L1555.1 1718.1 L1553.1 1718.5 L1551.1 1718.9 L1549 1719.3 L1547.3 1717.3 L1545.5 1715.4 L1543.8 1713.4 L1542.1 1711.5 L1540.3 1709.5 L1538.6 1707.5 L1536.9 1705.5 L1535.2 1703.5 L1533.5 1701.5 L1531.8 1699.5 L1530.1 1697.5 L1528.4 1695.5 L1526.7 1693.5 L1525 1691.5 L1523.3 1689.4 L1521.7 1687.4 L1520 1685.4 L1518.3 1683.3 L1516.7 1681.3 L1515 1679.2 L1513.4 1677.2 L1511.7 1675.1 L1510.1 1673 L1508.5 1670.9 L1506.8 1668.9 L1505.2 1666.8 L1503.6 1664.7 L1502 1662.6 L1500.4 1660.5 L1498.8 1658.4 L1497.2 1656.3 L1495.6 1654.2 L1494 1652.1 L1492.4 1649.9 L1490.9 1647.8 L1489.3 1645.7 L1487.7 1643.5 L1486.2 1641.4 L1484.6 1639.3 L1483.1 1637.1 L1481.5 1635 L1480 1632.8 L1478.5 1630.6 L1476.9 1628.5 L1475.4 1626.3 L1473.9 1624.1 L1472.4 1622 L1470.9 1619.8 L1469.4 1617.6 L1467.9 1615.4 L1466.4 1613.2 L1465 1611.1 L1463.5 1608.9 L1462 1606.7 L1460.6 1604.5 L1459.1 1602.3 L1457.7 1600.1 L1456.2 1597.8 L1454.8 1595.6Z"/>
<path d="M1448.7 1586 L1450.7 1585.7 L1452.7 1585.3 L1454.8 1585 L1456.8 1584.6 L1458.8 1584.3 L1460.8 1583.9 L1462.8 1583.5 L1464.8 1583.1 L1466.8 1582.7 L1468.8 1582.3 L1470.8 1581.9 L1472.8 1581.5 L1474.8 1581.1 L1476.7 1580.7 L1478.7 1580.2 L1480.7 1579.8 L1482.7 1579.3 L1484.6 1578.9 L1486.6 1578.4 L1488.5 1578 L1490.5 1577.5 L1492.4 1577 L1494.4 1576.6 L1496.3 1576.1 L1498.2 1575.6 L1500.1 1575.1 L1502.1 1574.6 L1504 1574.1 L1505.9 1573.6 L1507.8 1573.1 L1509.7 1572.5 L1511.6 1572 L1513.5 1571.5 L1515.4 1570.9 L1517.3 1570.4 L1519.2 1569.8 L1521 1569.3 L1522.9 1568.7 L1524.8 1568.2 L1526.6 1567.6 L1528.5 1567 L1530.4 1566.4 L1532.2 1565.9 L1534.1 1565.3 L1535.9 1564.7 L1537.7 1564.1 L1539.6 1563.5 L1541.4 1562.9 L1543.2 1562.2 L1545 1561.6 L1546.8 1561 L1548.6 1560.4 L1550.4 1559.7 L1552.2 1559.1 L1554 1558.5 L1555.8 1557.8 L1557.6 1557.2 L1559.4 1556.5 L1561.1 1555.8 L1562.9 1555.2 L1561.5 1553.1 L1560.2 1551 L1558.8 1548.9 L1557.4 1546.8 L1556.1 1544.7 L1554.7 1542.6 L1553.4 1540.5 L1552 1538.3 L1550.7 1536.2 L1549.4 1534.1 L1548.1 1532 L1546.7 1529.9 L1545.4 1527.8 L1544.1 1525.6 L1542.8 1523.5 L1541.5 1521.4 L1540.2 1519.3 L1538.9 1517.1 L1537.7 1515 L1536.4 1512.9 L1535.1 1510.7 L1533.8 1508.6 L1532.6 1506.5 L1531.3 1504.3 L1530.1 1502.2 L1528.8 1500.1 L1527.6 1497.9 L1526.4 1495.8 L1525.1 1493.7 L1523.9 1491.5 L1522.7 1489.4 L1521.5 1487.2 L1520.3 1485.1 L1519.1 1483 L1517.9 1480.8 L1516.7 1478.7 L1515.5 1476.5 L1514.3 1474.4 L1513.1 1472.3 L1512 1470.1 L1510.8 1468 L1509.6 1465.8 L1508.5 1463.7 L1507.3 1461.6 L1506.2 1459.4 L1505.1 1457.3 L1503.9 1455.1 L1502.8 1453 L1501.7 1450.9 L1500.6 1448.7 L1499.5 1446.6 L1498.4 1444.5 L1497.3 1442.3 L1496.2 1440.2 L1495.1 1438.1 L1494 1435.9 L1492.9 1433.8 L1491.9 1431.7 L1490.8 1429.6 L1489.7 1427.4 L1487.9 1427.9 L1486.2 1428.5 L1484.4 1429 L1482.6 1429.5 L1480.8 1430 L1479 1430.5 L1477.2 1431 L1475.4 1431.5 L1473.5 1432 L1471.7 1432.4 L1469.9 1432.9 L1468.1 1433.4 L1466.3 1433.9 L1464.4 1434.4 L1462.6 1434.8 L1460.8 1435.3 L1458.9 1435.8 L1457.1 1436.2 L1455.2 1436.7 L1453.4 1437.2 L1451.5 1437.6 L1449.7 1438.1 L1447.8 1438.5 L1446 1439 L1444.1 1439.4 L1442.2 1439.8 L1440.4 1440.3 L1438.5 1440.7 L1436.6 1441.1 L1434.8 1441.5 L1432.9 1442 L1431 1442.4 L1429.1 1442.8 L1427.2 1443.2 L1425.3 1443.6 L1423.4 1444 L1421.5 1444.4 L1419.6 1444.8 L1417.7 1445.2 L1415.8 1445.6 L1413.9 1446 L1412 1446.3 L1410.1 1446.7 L1408.2 1447.1 L1406.3 1447.4 L1404.4 1447.8 L1402.5 1448.2 L1400.5 1448.5 L1398.6 1448.9 L1396.7 1449.2 L1394.8 1449.6 L1392.8 1449.9 L1390.9 1450.2 L1389 1450.6 L1387 1450.9 L1385.1 1451.2 L1383.1 1451.5 L1381.2 1451.8 L1379.3 1452.1 L1377.3 1452.5 L1378.3 1454.7 L1379.3 1456.9 L1380.3 1459.1 L1381.3 1461.3 L1382.4 1463.6 L1383.4 1465.8 L1384.4 1468 L1385.5 1470.2 L1386.5 1472.5 L1387.6 1474.7 L1388.6 1476.9 L1389.7 1479.2 L1390.8 1481.4 L1391.8 1483.6 L1392.9 1485.9 L1394 1488.1 L1395.1 1490.3 L1396.2 1492.6 L1397.3 1494.8 L1398.5 1497 L1399.6 1499.3 L1400.7 1501.5 L1401.9 1503.8 L1403 1506 L1404.2 1508.2 L1405.3 1510.5 L1406.5 1512.7 L1407.7 1514.9 L1408.9 1517.2 L1410 1519.4 L1411.2 1521.7 L1412.4 1523.9 L1413.6 1526.1 L1414.9 1528.4 L1416.1 1530.6 L1417.3 1532.8 L1418.5 1535.1 L1419.8 1537.3 L1421 1539.5 L1422.3 1541.7 L1423.5 1544 L1424.8 1546.2 L1426.1 1548.4 L1427.4 1550.7 L1428.6 1552.9 L1429.9 1555.1 L1431.2 1557.3 L1432.5 1559.5 L1433.8 1561.8 L1435.2 1564 L1436.5 1566.2 L1437.8 1568.4 L1439.2 1570.6 L1440.5 1572.8 L1441.8 1575 L1443.2 1577.2 L1444.6 1579.4 L1445.9 1581.6 L1447.3 1583.8Z"/>
<path d="M1446.6 1594.5 L1444.5 1594.8 L1442.5 1595.2 L1440.4 1595.5 L1438.4 1595.8 L1436.3 1596.1 L1434.2 1596.3 L1432.2 1596.6 L1430.1 1596.9 L1428 1597.2 L1425.9 1597.4 L1423.8 1597.7 L1421.8 1597.9 L1419.7 1598.1 L1417.6 1598.4 L1415.5 1598.6 L1413.4 1598.8 L1411.3 1599 L1409.2 1599.2 L1407.1 1599.4 L1405 1599.6 L1402.8 1599.8 L1400.7 1600 L1398.6 1600.2 L1396.5 1600.3 L1394.4 1600.5 L1392.2 1600.6 L1390.1 1600.8 L1388 1600.9 L1385.8 1601.1 L1383.7 1601.2 L1381.6 1601.3 L1379.4 1601.4 L1377.3 1601.5 L1375.1 1601.6 L1373 1601.7 L1370.8 1601.8 L1368.7 1601.9 L1366.5 1601.9 L1364.4 1602 L1362.2 1602.1 L1360 1602.1 L1357.9 1602.2 L1355.7 1602.2 L1353.6 1602.2 L1351.4 1602.3 L1349.2 1602.3 L1347.1 1602.3 L1344.9 1602.3 L1342.7 1602.3 L1340.5 1602.3 L1338.4 1602.3 L1336.2 1602.3 L1334 1602.3 L1331.8 1602.2 L1329.7 1602.2 L1327.5 1602.1 L1325.3 1602.1 L1323.1 1602 L1320.9 1602 L1318.8 1601.9 L1320 1604.1 L1321.3 1606.3 L1322.6 1608.5 L1323.9 1610.6 L1325.2 1612.8 L1326.5 1615 L1327.9 1617.1 L1329.2 1619.3 L1330.5 1621.5 L1331.9 1623.6 L1333.2 1625.8 L1334.6 1627.9 L1335.9 1630.1 L1337.3 1632.2 L1338.7 1634.3 L1340 1636.5 L1341.4 1638.6 L1342.8 1640.7 L1344.2 1642.9 L1345.6 1645 L1347 1647.1 L1348.5 1649.2 L1349.9 1651.3 L1351.3 1653.4 L1352.7 1655.5 L1354.2 1657.6 L1355.6 1659.7 L1357.1 1661.8 L1358.5 1663.9 L1360 1666 L1361.5 1668.1 L1363 1670.2 L1364.4 1672.2 L1365.9 1674.3 L1367.4 1676.3 L1368.9 1678.4 L1370.4 1680.5 L1371.9 1682.5 L1373.4 1684.5 L1375 1686.6 L1376.5 1688.6 L1378 1690.6 L1379.6 1692.7 L1381.1 1694.7 L1382.7 1696.7 L1384.2 1698.7 L1385.8 1700.7 L1387.3 1702.7 L1388.9 1704.7 L1390.5 1706.7 L1392.1 1708.7 L1393.6 1710.6 L1395.2 1712.6 L1396.8 1714.6 L1398.4 1716.5 L1400 1718.5 L1401.7 1720.4 L1403.3 1722.4 L1404.9 1724.3 L1406.5 1726.3 L1408.9 1726.4 L1411.3 1726.6 L1413.7 1726.7 L1416.1 1726.8 L1418.5 1727 L1420.9 1727.1 L1423.3 1727.2 L1425.6 1727.3 L1428 1727.4 L1430.4 1727.4 L1432.8 1727.5 L1435.1 1727.6 L1437.5 1727.6 L1439.8 1727.7 L1442.2 1727.7 L1444.5 1727.8 L1446.9 1727.8 L1449.2 1727.8 L1451.5 1727.8 L1453.8 1727.8 L1456.2 1727.8 L1458.5 1727.8 L1460.8 1727.7 L1463.1 1727.7 L1465.4 1727.7 L1467.7 1727.6 L1470 1727.5 L1472.3 1727.5 L1474.5 1727.4 L1476.8 1727.3 L1479.1 1727.2 L1481.3 1727.1 L1483.6 1727 L1485.8 1726.9 L1488.1 1726.7 L1490.3 1726.6 L1492.5 1726.4 L1494.8 1726.3 L1497 1726.1 L1499.2 1725.9 L1501.4 1725.7 L1503.6 1725.5 L1505.8 1725.3 L1508 1725.1 L1510.2 1724.9 L1512.3 1724.7 L1514.5 1724.4 L1516.7 1724.2 L1518.8 1723.9 L1521 1723.7 L1523.1 1723.4 L1525.2 1723.1 L1527.4 1722.8 L1529.5 1722.5 L1531.6 1722.2 L1533.7 1721.9 L1535.8 1721.6 L1537.9 1721.2 L1540 1720.9 L1542.1 1720.5 L1540.3 1718.6 L1538.6 1716.6 L1536.9 1714.7 L1535.2 1712.7 L1533.4 1710.7 L1531.7 1708.7 L1530 1706.7 L1528.3 1704.8 L1526.6 1702.8 L1524.9 1700.8 L1523.2 1698.7 L1521.5 1696.7 L1519.8 1694.7 L1518.1 1692.7 L1516.4 1690.7 L1514.8 1688.6 L1513.1 1686.6 L1511.4 1684.5 L1509.8 1682.5 L1508.1 1680.4 L1506.5 1678.4 L1504.8 1676.3 L1503.2 1674.2 L1501.6 1672.1 L1499.9 1670.1 L1498.3 1668 L1496.7 1665.9 L1495.1 1663.8 L1493.5 1661.7 L1491.9 1659.6 L1490.3 1657.5 L1488.7 1655.3 L1487.1 1653.2 L1485.5 1651.1 L1484 1649 L1482.4 1646.8 L1480.8 1644.7 L1479.3 1642.6 L1477.7 1640.4 L1476.2 1638.3 L1474.7 1636.1 L1473.1 1634 L1471.6 1631.8 L1470.1 1629.6 L1468.6 1627.5 L1467.1 1625.3 L1465.6 1623.1 L1464.1 1620.9 L1462.6 1618.7 L1461.1 1616.6 L1459.6 1614.4 L1458.1 1612.2 L1456.7 1610 L1455.2 1607.8 L1453.7 1605.6 L1452.3 1603.4 L1450.9 1601.2 L1449.4 1599 L1448 1596.7Z"/>
<path d="M1441.9 1587.1 L1439.8 1587.5 L1437.8 1587.8 L1435.7 1588.1 L1433.7 1588.4 L1431.6 1588.7 L1429.6 1588.9 L1427.5 1589.2 L1425.4 1589.5 L1423.4 1589.8 L1421.3 1590 L1419.2 1590.3 L1417.1 1590.5 L1415 1590.7 L1412.9 1591 L1410.9 1591.2 L1408.8 1591.4 L1406.7 1591.6 L1404.6 1591.8 L1402.5 1592 L1400.4 1592.2 L1398.3 1592.4 L1396.1 1592.6 L1394 1592.8 L1391.9 1592.9 L1389.8 1593.1 L1387.7 1593.2 L1385.6 1593.4 L1383.4 1593.5 L1381.3 1593.7 L1379.2 1593.8 L1377 1593.9 L1374.9 1594 L1372.8 1594.1 L1370.6 1594.2 L1368.5 1594.3 L1366.4 1594.4 L1364.2 1594.5 L1362.1 1594.6 L1359.9 1594.6 L1357.8 1594.7 L1355.6 1594.8 L1353.5 1594.8 L1351.3 1594.9 L1349.2 1594.9 L1347 1594.9 L1344.9 1594.9 L1342.7 1595 L1340.5 1595 L1338.4 1595 L1336.2 1595 L1334 1595 L1331.9 1595 L1329.7 1594.9 L1327.6 1594.9 L1325.4 1594.9 L1323.2 1594.9 L1321 1594.8 L1318.9 1594.8 L1316.7 1594.7 L1314.5 1594.6 L1313.3 1592.5 L1312.1 1590.3 L1310.9 1588.1 L1309.6 1586 L1308.4 1583.8 L1307.2 1581.6 L1306 1579.5 L1304.8 1577.3 L1303.7 1575.1 L1302.5 1572.9 L1301.3 1570.7 L1300.1 1568.6 L1299 1566.4 L1297.8 1564.2 L1296.7 1562 L1295.6 1559.8 L1294.4 1557.6 L1293.3 1555.4 L1292.2 1553.2 L1291.1 1551 L1290 1548.8 L1288.9 1546.6 L1287.8 1544.4 L1286.7 1542.2 L1285.6 1540 L1284.6 1537.9 L1283.5 1535.7 L1282.5 1533.5 L1281.4 1531.2 L1280.4 1529 L1279.3 1526.8 L1278.3 1524.6 L1277.3 1522.4 L1276.3 1520.2 L1275.3 1518 L1274.3 1515.8 L1273.3 1513.6 L1272.3 1511.4 L1271.3 1509.2 L1270.4 1507 L1269.4 1504.8 L1268.4 1502.6 L1267.5 1500.4 L1266.5 1498.2 L1265.6 1496 L1264.7 1493.8 L1263.8 1491.6 L1262.8 1489.4 L1261.9 1487.2 L1261 1485 L1260.1 1482.8 L1259.2 1480.6 L1258.4 1478.4 L1257.5 1476.2 L1256.6 1474.1 L1255.8 1471.9 L1254.9 1469.7 L1254.1 1467.5 L1253.2 1465.3 L1252.4 1463.1 L1254.4 1463.1 L1256.3 1463 L1258.3 1463 L1260.3 1462.9 L1262.2 1462.9 L1264.2 1462.8 L1266.2 1462.8 L1268.2 1462.7 L1270.2 1462.6 L1272.1 1462.6 L1274.1 1462.5 L1276.1 1462.4 L1278.1 1462.3 L1280 1462.2 L1282 1462.1 L1284 1462 L1286 1461.9 L1288 1461.8 L1289.9 1461.7 L1291.9 1461.6 L1293.9 1461.5 L1295.9 1461.4 L1297.9 1461.2 L1299.9 1461.1 L1301.8 1461 L1303.8 1460.8 L1305.8 1460.7 L1307.8 1460.5 L1309.8 1460.4 L1311.7 1460.2 L1313.7 1460 L1315.7 1459.9 L1317.7 1459.7 L1319.7 1459.5 L1321.6 1459.3 L1323.6 1459.2 L1325.6 1459 L1327.6 1458.8 L1329.5 1458.6 L1331.5 1458.4 L1333.5 1458.2 L1335.5 1458 L1337.4 1457.8 L1339.4 1457.5 L1341.4 1457.3 L1343.3 1457.1 L1345.3 1456.8 L1347.3 1456.6 L1349.3 1456.4 L1351.2 1456.1 L1353.2 1455.9 L1355.1 1455.6 L1357.1 1455.4 L1359.1 1455.1 L1361 1454.8 L1363 1454.6 L1364.9 1454.3 L1366.9 1454 L1368.9 1453.7 L1370.8 1453.4 L1371.8 1455.7 L1372.8 1457.9 L1373.8 1460.1 L1374.8 1462.3 L1375.8 1464.6 L1376.8 1466.8 L1377.9 1469 L1378.9 1471.2 L1379.9 1473.5 L1381 1475.7 L1382 1477.9 L1383.1 1480.2 L1384.2 1482.4 L1385.2 1484.6 L1386.3 1486.9 L1387.4 1489.1 L1388.5 1491.4 L1389.6 1493.6 L1390.7 1495.8 L1391.8 1498.1 L1393 1500.3 L1394.1 1502.6 L1395.2 1504.8 L1396.4 1507 L1397.5 1509.3 L1398.7 1511.5 L1399.8 1513.7 L1401 1516 L1402.2 1518.2 L1403.4 1520.5 L1404.6 1522.7 L1405.7 1524.9 L1406.9 1527.2 L1408.2 1529.4 L1409.4 1531.6 L1410.6 1533.9 L1411.8 1536.1 L1413.1 1538.3 L1414.3 1540.6 L1415.5 1542.8 L1416.8 1545 L1418.1 1547.3 L1419.3 1549.5 L1420.6 1551.7 L1421.9 1554 L1423.2 1556.2 L1424.5 1558.4 L1425.8 1560.6 L1427.1 1562.8 L1428.4 1565.1 L1429.7 1567.3 L1431 1569.5 L1432.4 1571.7 L1433.7 1573.9 L1435.1 1576.1 L1436.4 1578.3 L1437.8 1580.5 L1439.1 1582.7 L1440.5 1584.9Z"/>
<path d="M1677.4 1837.4 L1679.6 1836.9 L1681.7 1836.4 L1683.9 1835.9 L1686 1835.3 L1688.1 1834.8 L1690.2 1834.2 L1692.3 1833.6 L1694.4 1833.1 L1696.4 1832.5 L1698.5 1831.9 L1700.5 1831.2 L1702.5 1830.6 L1704.5 1830 L1706.5 1829.3 L1708.5 1828.7 L1710.5 1828 L1712.4 1827.3 L1714.4 1826.6 L1716.3 1825.9 L1718.2 1825.2 L1720.1 1824.5 L1722 1823.7 L1723.9 1823 L1725.8 1822.2 L1727.6 1821.4 L1729.5 1820.7 L1731.3 1819.9 L1733.1 1819.1 L1734.9 1818.3 L1736.7 1817.4 L1738.5 1816.6 L1740.3 1815.8 L1742 1814.9 L1743.8 1814.1 L1745.5 1813.2 L1747.3 1812.3 L1749 1811.4 L1750.7 1810.5 L1752.4 1809.6 L1754.1 1808.7 L1755.8 1807.8 L1757.4 1806.9 L1759.1 1805.9 L1760.7 1805 L1762.4 1804 L1764 1803.1 L1765.6 1802.1 L1767.2 1801.1 L1768.8 1800.1 L1770.4 1799.1 L1772 1798.1 L1773.5 1797.1 L1775.1 1796.1 L1776.6 1795.1 L1778.2 1794 L1779.7 1793 L1781.2 1792 L1782.7 1790.9 L1784.3 1789.9 L1785.7 1788.8 L1788 1790.3 L1790.2 1791.9 L1792.4 1793.4 L1794.6 1795 L1796.8 1796.5 L1799.1 1798 L1801.3 1799.5 L1803.6 1801 L1805.8 1802.5 L1808.1 1804 L1810.4 1805.5 L1812.6 1807 L1814.9 1808.4 L1817.2 1809.9 L1819.5 1811.4 L1821.8 1812.8 L1824 1814.3 L1826.3 1815.7 L1828.6 1817.1 L1831 1818.5 L1833.3 1819.9 L1835.6 1821.3 L1837.9 1822.7 L1840.2 1824.1 L1842.6 1825.5 L1844.9 1826.9 L1847.2 1828.2 L1849.6 1829.6 L1851.9 1830.9 L1854.3 1832.3 L1856.7 1833.6 L1859 1834.9 L1861.4 1836.2 L1863.8 1837.5 L1866.1 1838.8 L1868.5 1840.1 L1870.9 1841.4 L1873.3 1842.6 L1875.7 1843.9 L1878.1 1845.1 L1880.4 1846.4 L1882.8 1847.6 L1885.2 1848.8 L1887.7 1850 L1890.1 1851.2 L1892.5 1852.4 L1894.9 1853.6 L1897.3 1854.8 L1899.7 1855.9 L1902.2 1857.1 L1904.6 1858.2 L1907 1859.3 L1909.5 1860.4 L1911.9 1861.6 L1914.3 1862.7 L1916.8 1863.7 L1919.2 1864.8 L1921.7 1865.9 L1924.1 1866.9 L1926.6 1868 L1925.4 1869.3 L1924.3 1870.6 L1923.1 1871.9 L1921.9 1873.2 L1920.8 1874.4 L1919.6 1875.7 L1918.4 1877 L1917.2 1878.2 L1916 1879.5 L1914.7 1880.7 L1913.5 1882 L1912.2 1883.2 L1911 1884.4 L1909.7 1885.6 L1908.4 1886.9 L1907.2 1888.1 L1905.9 1889.3 L1904.5 1890.4 L1903.2 1891.6 L1901.9 1892.8 L1900.5 1893.9 L1899.2 1895.1 L1897.8 1896.2 L1896.4 1897.4 L1895 1898.5 L1893.6 1899.6 L1892.2 1900.7 L1890.7 1901.8 L1889.3 1902.9 L1887.8 1904 L1886.3 1905.1 L1884.8 1906.1 L1883.3 1907.2 L1881.8 1908.2 L1880.3 1909.2 L1878.7 1910.2 L1877.1 1911.2 L1875.5 1912.2 L1873.9 1913.2 L1872.3 1914.2 L1870.6 1915.1 L1869 1916.1 L1867.3 1917 L1865.6 1917.9 L1863.9 1918.8 L1862.1 1919.7 L1860.4 1920.6 L1858.6 1921.4 L1856.8 1922.3 L1855 1923.1 L1853.1 1923.9 L1851.3 1924.7 L1849.4 1925.5 L1847.5 1926.3 L1845.5 1927.1 L1843.6 1927.8 L1841.6 1928.6 L1839.6 1929.3 L1837.5 1930 L1835.5 1930.7 L1832.5 1929.4 L1829.6 1928.1 L1826.7 1926.7 L1823.8 1925.4 L1820.9 1924.1 L1818.1 1922.7 L1815.2 1921.4 L1812.4 1920 L1809.5 1918.6 L1806.7 1917.2 L1803.9 1915.8 L1801 1914.4 L1798.2 1913 L1795.4 1911.6 L1792.7 1910.1 L1789.9 1908.7 L1787.1 1907.2 L1784.4 1905.8 L1781.6 1904.3 L1778.9 1902.8 L1776.1 1901.3 L1773.4 1899.8 L1770.7 1898.3 L1768 1896.8 L1765.3 1895.3 L1762.7 1893.7 L1760 1892.2 L1757.3 1890.7 L1754.7 1889.1 L1752 1887.5 L1749.4 1886 L1746.8 1884.4 L1744.2 1882.8 L1741.6 1881.2 L1739 1879.6 L1736.4 1878 L1733.8 1876.4 L1731.3 1874.8 L1728.7 1873.1 L1726.2 1871.5 L1723.7 1869.9 L1721.1 1868.2 L1718.6 1866.5 L1716.1 1864.9 L1713.6 1863.2 L1711.1 1861.5 L1708.7 1859.8 L1706.2 1858.2 L1703.8 1856.5 L1701.3 1854.8 L1698.9 1853 L1696.4 1851.3 L1694 1849.6 L1691.6 1847.9 L1689.2 1846.1 L1686.8 1844.4 L1684.5 1842.7 L1682.1 1840.9 L1679.7 1839.2Z"/>
<path d="M1669.6 1831.5 L1671.8 1831 L1674 1830.5 L1676.1 1830 L1678.2 1829.5 L1680.3 1828.9 L1682.4 1828.4 L1684.5 1827.8 L1686.6 1827.2 L1688.7 1826.6 L1690.7 1826 L1692.7 1825.4 L1694.8 1824.8 L1696.8 1824.2 L1698.8 1823.5 L1700.8 1822.9 L1702.7 1822.2 L1704.7 1821.6 L1706.6 1820.9 L1708.6 1820.2 L1710.5 1819.5 L1712.4 1818.7 L1714.3 1818 L1716.2 1817.3 L1718.1 1816.5 L1719.9 1815.8 L1721.8 1815 L1723.6 1814.2 L1725.4 1813.4 L1727.3 1812.6 L1729.1 1811.8 L1730.9 1811 L1732.6 1810.2 L1734.4 1809.3 L1736.2 1808.5 L1737.9 1807.6 L1739.7 1806.8 L1741.4 1805.9 L1743.1 1805 L1744.8 1804.1 L1746.5 1803.2 L1748.2 1802.3 L1749.9 1801.4 L1751.6 1800.5 L1753.2 1799.6 L1754.9 1798.6 L1756.5 1797.7 L1758.1 1796.7 L1759.7 1795.7 L1761.4 1794.8 L1763 1793.8 L1764.5 1792.8 L1766.1 1791.8 L1767.7 1790.8 L1769.3 1789.8 L1770.8 1788.8 L1772.3 1787.7 L1773.9 1786.7 L1775.4 1785.7 L1776.9 1784.6 L1778.4 1783.6 L1776.2 1782 L1774.1 1780.4 L1771.9 1778.8 L1769.7 1777.2 L1767.6 1775.6 L1765.4 1774 L1763.3 1772.4 L1761.1 1770.8 L1759 1769.2 L1756.9 1767.5 L1754.7 1765.9 L1752.6 1764.3 L1750.5 1762.6 L1748.4 1761 L1746.3 1759.3 L1744.2 1757.7 L1742.1 1756 L1740 1754.4 L1738 1752.7 L1735.9 1751 L1733.8 1749.3 L1731.8 1747.6 L1729.7 1746 L1727.7 1744.3 L1725.7 1742.6 L1723.6 1740.9 L1721.6 1739.2 L1719.6 1737.5 L1717.6 1735.8 L1715.6 1734 L1713.6 1732.3 L1711.6 1730.6 L1709.6 1728.9 L1707.7 1727.2 L1705.7 1725.4 L1703.8 1723.7 L1701.8 1722 L1699.9 1720.2 L1697.9 1718.5 L1696 1716.7 L1694.1 1715 L1692.2 1713.2 L1690.2 1711.5 L1688.3 1709.7 L1686.4 1708 L1684.6 1706.2 L1682.7 1704.4 L1680.8 1702.7 L1678.9 1700.9 L1677.1 1699.1 L1675.2 1697.4 L1673.4 1695.6 L1671.5 1693.8 L1669.7 1692 L1667.9 1690.3 L1666.1 1688.5 L1664.3 1686.7 L1662.5 1684.9 L1660.7 1683.1 L1658.9 1681.4 L1657.2 1682.2 L1655.6 1683 L1653.9 1683.8 L1652.3 1684.6 L1650.6 1685.4 L1648.9 1686.1 L1647.2 1686.9 L1645.5 1687.7 L1643.8 1688.5 L1642.1 1689.2 L1640.4 1690 L1638.7 1690.7 L1637 1691.5 L1635.2 1692.2 L1633.5 1692.9 L1631.7 1693.6 L1630 1694.4 L1628.2 1695.1 L1626.5 1695.8 L1624.7 1696.5 L1622.9 1697.2 L1621.1 1697.8 L1619.3 1698.5 L1617.5 1699.2 L1615.7 1699.8 L1613.9 1700.5 L1612.1 1701.1 L1610.3 1701.8 L1608.4 1702.4 L1606.6 1703.1 L1604.7 1703.7 L1602.9 1704.3 L1601 1704.9 L1599.1 1705.5 L1597.3 1706.1 L1595.4 1706.7 L1593.5 1707.2 L1591.6 1707.8 L1589.7 1708.4 L1587.8 1708.9 L1585.9 1709.5 L1583.9 1710 L1582 1710.5 L1580.1 1711 L1578.1 1711.6 L1576.2 1712.1 L1574.2 1712.6 L1572.2 1713 L1570.3 1713.5 L1568.3 1714 L1566.3 1714.5 L1564.3 1714.9 L1562.3 1715.4 L1560.3 1715.8 L1558.3 1716.2 L1556.2 1716.7 L1554.2 1717.1 L1552.2 1717.5 L1550.1 1717.9 L1548.1 1718.3 L1549.8 1720.2 L1551.6 1722.2 L1553.4 1724.1 L1555.1 1726 L1556.9 1728 L1558.7 1729.9 L1560.5 1731.9 L1562.3 1733.8 L1564.2 1735.8 L1566 1737.7 L1567.8 1739.6 L1569.7 1741.6 L1571.5 1743.5 L1573.4 1745.4 L1575.3 1747.4 L1577.2 1749.3 L1579.1 1751.2 L1581 1753.2 L1582.9 1755.1 L1584.8 1757 L1586.8 1758.9 L1588.7 1760.8 L1590.7 1762.8 L1592.6 1764.7 L1594.6 1766.6 L1596.6 1768.5 L1598.6 1770.4 L1600.6 1772.3 L1602.6 1774.2 L1604.6 1776.1 L1606.6 1778 L1608.7 1779.9 L1610.7 1781.8 L1612.8 1783.7 L1614.8 1785.6 L1616.9 1787.5 L1619 1789.3 L1621.1 1791.2 L1623.2 1793.1 L1625.3 1794.9 L1627.4 1796.8 L1629.6 1798.7 L1631.7 1800.5 L1633.9 1802.4 L1636 1804.2 L1638.2 1806.1 L1640.4 1807.9 L1642.6 1809.8 L1644.8 1811.6 L1647 1813.4 L1649.2 1815.3 L1651.5 1817.1 L1653.7 1818.9 L1655.9 1820.7 L1658.2 1822.5 L1660.5 1824.3 L1662.7 1826.1 L1665 1827.9 L1667.3 1829.7Z"/>
<path d="M1670 1839 L1667.8 1839.4 L1665.6 1839.8 L1663.3 1840.3 L1661 1840.7 L1658.7 1841.1 L1656.4 1841.4 L1654.1 1841.8 L1651.8 1842.2 L1649.4 1842.5 L1647.1 1842.8 L1644.7 1843.2 L1642.3 1843.5 L1639.9 1843.8 L1637.5 1844 L1635 1844.3 L1632.6 1844.6 L1630.1 1844.8 L1627.7 1845 L1625.2 1845.2 L1622.7 1845.4 L1620.1 1845.6 L1617.6 1845.8 L1615.1 1845.9 L1612.5 1846.1 L1609.9 1846.2 L1607.3 1846.4 L1604.7 1846.5 L1602.1 1846.6 L1599.5 1846.6 L1596.8 1846.7 L1594.1 1846.8 L1591.5 1846.8 L1588.8 1846.8 L1586.1 1846.8 L1583.4 1846.9 L1580.6 1846.8 L1577.9 1846.8 L1575.1 1846.8 L1572.4 1846.7 L1569.6 1846.7 L1566.8 1846.6 L1564 1846.5 L1561.2 1846.4 L1558.3 1846.3 L1555.5 1846.2 L1552.6 1846 L1549.7 1845.9 L1546.9 1845.7 L1544 1845.6 L1541.1 1845.4 L1538.2 1845.2 L1535.2 1845 L1532.3 1844.7 L1529.4 1844.5 L1526.4 1844.3 L1523.4 1844 L1520.4 1843.7 L1517.5 1843.5 L1514.5 1843.2 L1511.5 1842.9 L1513.4 1844.6 L1515.3 1846.4 L1517.2 1848.1 L1519.2 1849.8 L1521.1 1851.5 L1523.1 1853.3 L1525.1 1855 L1527 1856.7 L1529 1858.4 L1531 1860.1 L1533 1861.8 L1535 1863.5 L1537 1865.2 L1539 1866.9 L1541 1868.5 L1543.1 1870.2 L1545.1 1871.8 L1547.1 1873.5 L1549.2 1875.1 L1551.2 1876.8 L1553.3 1878.4 L1555.4 1880.1 L1557.5 1881.7 L1559.5 1883.3 L1561.6 1884.9 L1563.7 1886.5 L1565.8 1888.1 L1567.9 1889.7 L1570 1891.3 L1572.1 1892.9 L1574.3 1894.4 L1576.4 1896 L1578.5 1897.5 L1580.7 1899.1 L1582.8 1900.6 L1585 1902.2 L1587.1 1903.7 L1589.3 1905.2 L1591.4 1906.7 L1593.6 1908.2 L1595.8 1909.7 L1598 1911.2 L1600.2 1912.7 L1602.3 1914.1 L1604.5 1915.6 L1606.7 1917.1 L1608.9 1918.5 L1611.1 1920 L1613.4 1921.4 L1615.6 1922.8 L1617.8 1924.2 L1620 1925.6 L1622.2 1927 L1624.5 1928.4 L1626.7 1929.8 L1628.9 1931.2 L1631.2 1932.5 L1633.4 1933.9 L1635.6 1935.2 L1637.9 1936.6 L1642 1937.1 L1646.1 1937.5 L1650.1 1938 L1654.2 1938.4 L1658.2 1938.8 L1662.2 1939.2 L1666.2 1939.6 L1670.1 1940 L1674 1940.3 L1677.9 1940.6 L1681.7 1941 L1685.6 1941.2 L1689.4 1941.5 L1693.1 1941.8 L1696.9 1942 L1700.6 1942.2 L1704.2 1942.4 L1707.9 1942.6 L1711.5 1942.8 L1715 1942.9 L1718.6 1943.1 L1722.1 1943.2 L1725.5 1943.3 L1729 1943.3 L1732.4 1943.4 L1735.7 1943.4 L1739 1943.4 L1742.3 1943.4 L1745.6 1943.4 L1748.8 1943.3 L1751.9 1943.3 L1755.1 1943.2 L1758.2 1943.1 L1761.2 1942.9 L1764.2 1942.8 L1767.2 1942.6 L1770.2 1942.4 L1773.1 1942.2 L1776 1942 L1778.8 1941.7 L1781.6 1941.5 L1784.4 1941.2 L1787.1 1940.9 L1789.8 1940.6 L1792.4 1940.2 L1795.1 1939.9 L1797.7 1939.5 L1800.2 1939.1 L1802.7 1938.7 L1805.2 1938.2 L1807.7 1937.8 L1810.1 1937.3 L1812.5 1936.8 L1814.9 1936.3 L1817.2 1935.8 L1819.5 1935.2 L1821.8 1934.6 L1824 1934.1 L1826.2 1933.5 L1828.4 1932.8 L1825.4 1931.5 L1822.5 1930.2 L1819.6 1928.9 L1816.7 1927.5 L1813.8 1926.2 L1810.9 1924.8 L1808 1923.4 L1805.1 1922.1 L1802.3 1920.7 L1799.4 1919.3 L1796.6 1917.9 L1793.8 1916.4 L1791 1915 L1788.2 1913.6 L1785.4 1912.1 L1782.6 1910.7 L1779.8 1909.2 L1777 1907.7 L1774.3 1906.2 L1771.5 1904.7 L1768.8 1903.2 L1766.1 1901.7 L1763.4 1900.2 L1760.7 1898.7 L1758 1897.2 L1755.3 1895.6 L1752.6 1894.1 L1750 1892.5 L1747.3 1890.9 L1744.7 1889.4 L1742 1887.8 L1739.4 1886.2 L1736.8 1884.6 L1734.2 1883 L1731.6 1881.4 L1729 1879.8 L1726.5 1878.1 L1723.9 1876.5 L1721.3 1874.9 L1718.8 1873.2 L1716.3 1871.6 L1713.7 1869.9 L1711.2 1868.2 L1708.7 1866.6 L1706.2 1864.9 L1703.8 1863.2 L1701.3 1861.5 L1698.8 1859.8 L1696.4 1858.1 L1693.9 1856.4 L1691.5 1854.7 L1689.1 1853 L1686.7 1851.2 L1684.2 1849.5 L1681.9 1847.8 L1679.5 1846 L1677.1 1844.3 L1674.7 1842.5 L1672.4 1840.7Z"/>
<path d="M1662.3 1833 L1660.1 1833.5 L1657.8 1833.9 L1655.6 1834.3 L1653.3 1834.7 L1651 1835.1 L1648.7 1835.5 L1646.4 1835.9 L1644.1 1836.2 L1641.8 1836.5 L1639.4 1836.9 L1637.1 1837.2 L1634.7 1837.5 L1632.3 1837.8 L1629.9 1838 L1627.5 1838.3 L1625 1838.6 L1622.6 1838.8 L1620.1 1839 L1617.6 1839.2 L1615.1 1839.4 L1612.6 1839.6 L1610.1 1839.8 L1607.6 1839.9 L1605 1840.1 L1602.5 1840.2 L1599.9 1840.3 L1597.3 1840.5 L1594.7 1840.5 L1592.1 1840.6 L1589.5 1840.7 L1586.9 1840.8 L1584.2 1840.8 L1581.5 1840.8 L1578.9 1840.9 L1576.2 1840.9 L1573.5 1840.9 L1570.7 1840.8 L1568 1840.8 L1565.3 1840.8 L1562.5 1840.7 L1559.8 1840.6 L1557 1840.5 L1554.2 1840.5 L1551.4 1840.3 L1548.6 1840.2 L1545.8 1840.1 L1542.9 1840 L1540.1 1839.8 L1537.2 1839.6 L1534.4 1839.4 L1531.5 1839.3 L1528.6 1839.1 L1525.7 1838.8 L1522.8 1838.6 L1519.9 1838.4 L1516.9 1838.1 L1514 1837.9 L1511 1837.6 L1508.1 1837.3 L1505.1 1837 L1503.2 1835.2 L1501.3 1833.5 L1499.5 1831.7 L1497.6 1829.9 L1495.7 1828.1 L1493.9 1826.3 L1492.1 1824.5 L1490.2 1822.7 L1488.4 1820.9 L1486.6 1819.1 L1484.8 1817.3 L1482.9 1815.5 L1481.2 1813.7 L1479.4 1811.9 L1477.6 1810 L1475.8 1808.2 L1474 1806.4 L1472.3 1804.5 L1470.5 1802.7 L1468.8 1800.9 L1467.1 1799 L1465.3 1797.2 L1463.6 1795.3 L1461.9 1793.5 L1460.2 1791.6 L1458.5 1789.7 L1456.8 1787.9 L1455.1 1786 L1453.5 1784.1 L1451.8 1782.3 L1450.2 1780.4 L1448.5 1778.5 L1446.9 1776.6 L1445.2 1774.8 L1443.6 1772.9 L1442 1771 L1440.4 1769.1 L1438.8 1767.2 L1437.2 1765.3 L1435.6 1763.4 L1434.1 1761.5 L1432.5 1759.6 L1430.9 1757.7 L1429.4 1755.8 L1427.8 1753.9 L1426.3 1752 L1424.8 1750.1 L1423.3 1748.2 L1421.8 1746.3 L1420.3 1744.4 L1418.8 1742.5 L1417.3 1740.6 L1415.8 1738.7 L1414.3 1736.7 L1412.9 1734.8 L1411.4 1732.9 L1410 1731 L1408.6 1729.1 L1407.1 1727.2 L1405.7 1725.2 L1408.1 1725.4 L1410.5 1725.5 L1412.9 1725.7 L1415.3 1725.8 L1417.7 1725.9 L1420.1 1726.1 L1422.4 1726.2 L1424.8 1726.3 L1427.2 1726.3 L1429.6 1726.4 L1431.9 1726.5 L1434.3 1726.6 L1436.6 1726.6 L1439 1726.7 L1441.3 1726.7 L1443.7 1726.7 L1446 1726.8 L1448.3 1726.8 L1450.7 1726.8 L1453 1726.8 L1455.3 1726.8 L1457.6 1726.7 L1459.9 1726.7 L1462.2 1726.7 L1464.5 1726.6 L1466.8 1726.6 L1469.1 1726.5 L1471.4 1726.4 L1473.7 1726.4 L1475.9 1726.3 L1478.2 1726.2 L1480.4 1726.1 L1482.7 1726 L1484.9 1725.8 L1487.2 1725.7 L1489.4 1725.6 L1491.6 1725.4 L1493.9 1725.2 L1496.1 1725.1 L1498.3 1724.9 L1500.5 1724.7 L1502.7 1724.5 L1504.9 1724.3 L1507.1 1724.1 L1509.3 1723.9 L1511.4 1723.6 L1513.6 1723.4 L1515.8 1723.2 L1517.9 1722.9 L1520.1 1722.6 L1522.2 1722.4 L1524.3 1722.1 L1526.5 1721.8 L1528.6 1721.5 L1530.7 1721.2 L1532.8 1720.9 L1534.9 1720.5 L1537 1720.2 L1539.1 1719.9 L1541.2 1719.5 L1542.9 1721.5 L1544.7 1723.4 L1546.4 1725.4 L1548.2 1727.3 L1550 1729.3 L1551.8 1731.2 L1553.5 1733.1 L1555.4 1735.1 L1557.2 1737 L1559 1739 L1560.8 1740.9 L1562.7 1742.9 L1564.5 1744.8 L1566.4 1746.7 L1568.2 1748.7 L1570.1 1750.6 L1572 1752.5 L1573.9 1754.5 L1575.8 1756.4 L1577.7 1758.3 L1579.7 1760.3 L1581.6 1762.2 L1583.5 1764.1 L1585.5 1766 L1587.5 1767.9 L1589.4 1769.9 L1591.4 1771.8 L1593.4 1773.7 L1595.4 1775.6 L1597.4 1777.5 L1599.5 1779.4 L1601.5 1781.3 L1603.5 1783.2 L1605.6 1785.1 L1607.6 1787 L1609.7 1788.9 L1611.8 1790.7 L1613.9 1792.6 L1616 1794.5 L1618.1 1796.4 L1620.2 1798.3 L1622.3 1800.1 L1624.5 1802 L1626.6 1803.8 L1628.8 1805.7 L1630.9 1807.6 L1633.1 1809.4 L1635.3 1811.2 L1637.5 1813.1 L1639.7 1814.9 L1641.9 1816.8 L1644.1 1818.6 L1646.4 1820.4 L1648.6 1822.2 L1650.9 1824 L1653.1 1825.9 L1655.4 1827.7 L1657.7 1829.5 L1660 1831.3Z"/>
<path d="M2058.7 1986.1 L2059.7 1984.9 L2060.6 1983.8 L2061.5 1982.6 L2062.5 1981.4 L2063.4 1980.2 L2064.2 1979 L2065.1 1977.8 L2066 1976.5 L2066.9 1975.3 L2067.7 1974 L2068.5 1972.8 L2069.4 1971.5 L2070.2 1970.2 L2071 1968.9 L2071.8 1967.7 L2072.6 1966.3 L2073.3 1965 L2074.1 1963.7 L2074.9 1962.4 L2075.6 1961 L2076.4 1959.7 L2077.1 1958.4 L2077.9 1957 L2078.6 1955.6 L2079.3 1954.3 L2080 1952.9 L2080.7 1951.5 L2081.4 1950.1 L2082.1 1948.7 L2082.8 1947.3 L2083.5 1945.9 L2084.2 1944.4 L2084.8 1943 L2085.5 1941.6 L2086.2 1940.1 L2086.8 1938.7 L2087.5 1937.2 L2088.1 1935.8 L2088.7 1934.3 L2089.4 1932.9 L2090 1931.4 L2090.6 1929.9 L2091.3 1928.4 L2091.9 1926.9 L2092.5 1925.4 L2093.1 1923.9 L2093.7 1922.4 L2094.3 1920.9 L2094.9 1919.4 L2095.5 1917.9 L2096 1916.4 L2096.6 1914.9 L2097.2 1913.3 L2097.8 1911.8 L2098.3 1910.3 L2098.9 1908.7 L2099.4 1907.2 L2100 1905.6 L2100.6 1904.1 L2101.1 1902.5 L2104.1 1902.6 L2107.1 1902.7 L2110 1902.8 L2113 1902.8 L2116 1902.8 L2119 1902.8 L2122 1902.8 L2125 1902.8 L2128 1902.8 L2131.1 1902.7 L2134.1 1902.6 L2137.1 1902.6 L2140.1 1902.5 L2143.2 1902.3 L2146.2 1902.2 L2149.2 1902 L2152.3 1901.9 L2155.3 1901.7 L2158.4 1901.5 L2161.4 1901.3 L2164.5 1901 L2167.6 1900.8 L2170.6 1900.5 L2173.7 1900.3 L2176.8 1900 L2179.8 1899.7 L2182.9 1899.3 L2186 1899 L2189 1898.7 L2192.1 1898.3 L2195.2 1897.9 L2198.3 1897.5 L2201.4 1897.1 L2204.4 1896.7 L2207.5 1896.2 L2210.6 1895.8 L2213.7 1895.3 L2216.8 1894.8 L2219.9 1894.3 L2222.9 1893.8 L2226 1893.3 L2229.1 1892.8 L2232.2 1892.2 L2235.3 1891.7 L2238.4 1891.1 L2241.4 1890.5 L2244.5 1889.9 L2247.6 1889.3 L2250.7 1888.7 L2253.8 1888 L2256.8 1887.4 L2259.9 1886.7 L2263 1886.1 L2266 1885.4 L2269.1 1884.7 L2272.2 1884 L2275.2 1883.3 L2278.3 1882.5 L2281.3 1881.8 L2284.4 1881 L2284.7 1882.4 L2284.9 1883.8 L2285.2 1885.1 L2285.5 1886.5 L2285.8 1887.8 L2286.1 1889.2 L2286.4 1890.5 L2286.8 1891.8 L2287.1 1893.2 L2287.4 1894.5 L2287.8 1895.8 L2288.1 1897.1 L2288.5 1898.4 L2288.9 1899.7 L2289.3 1901 L2289.7 1902.2 L2290.1 1903.5 L2290.5 1904.8 L2290.9 1906 L2291.3 1907.3 L2291.8 1908.5 L2292.2 1909.7 L2292.7 1911 L2293.2 1912.2 L2293.7 1913.4 L2294.2 1914.6 L2294.7 1915.8 L2295.2 1916.9 L2295.8 1918.1 L2296.4 1919.3 L2296.9 1920.4 L2297.5 1921.5 L2298.1 1922.7 L2298.8 1923.8 L2299.4 1924.9 L2300.1 1926 L2300.8 1927.1 L2301.5 1928.1 L2302.2 1929.2 L2302.9 1930.3 L2303.7 1931.3 L2304.5 1932.3 L2305.3 1933.3 L2306.1 1934.3 L2307 1935.3 L2307.9 1936.3 L2308.8 1937.3 L2309.7 1938.2 L2310.7 1939.2 L2311.7 1940.1 L2312.7 1941 L2313.8 1941.9 L2314.9 1942.8 L2316 1943.6 L2317.1 1944.5 L2318.3 1945.3 L2319.5 1946.1 L2320.8 1946.9 L2322.1 1947.7 L2323.4 1948.5 L2319.3 1949.6 L2315.2 1950.7 L2311.1 1951.9 L2306.9 1953 L2302.7 1954.1 L2298.5 1955.2 L2294.2 1956.3 L2290 1957.3 L2285.7 1958.4 L2281.4 1959.5 L2277.1 1960.5 L2272.8 1961.5 L2268.4 1962.5 L2264 1963.5 L2259.7 1964.5 L2255.2 1965.5 L2250.8 1966.4 L2246.4 1967.4 L2241.9 1968.3 L2237.5 1969.2 L2233 1970.1 L2228.5 1971 L2224 1971.8 L2219.5 1972.7 L2214.9 1973.5 L2210.4 1974.3 L2205.8 1975.1 L2201.3 1975.8 L2196.7 1976.6 L2192.2 1977.3 L2187.6 1978 L2183 1978.7 L2178.4 1979.3 L2173.9 1979.9 L2169.3 1980.6 L2164.7 1981.1 L2160.1 1981.7 L2155.6 1982.2 L2151 1982.7 L2146.5 1983.2 L2141.9 1983.6 L2137.4 1984 L2132.9 1984.4 L2128.4 1984.8 L2123.9 1985.1 L2119.4 1985.4 L2114.9 1985.7 L2110.5 1985.9 L2106.1 1986.1 L2101.7 1986.3 L2097.3 1986.4 L2092.9 1986.5 L2088.6 1986.6 L2084.2 1986.6 L2079.9 1986.6 L2075.6 1986.6 L2071.4 1986.5 L2067.1 1986.4 L2062.9 1986.2Z"/>
<path d="M2044.9 1985.3 L2046 1984.1 L2047 1983 L2048.1 1981.8 L2049.1 1980.6 L2050.1 1979.5 L2051.1 1978.3 L2052.1 1977.1 L2053 1975.8 L2054 1974.6 L2054.9 1973.4 L2055.8 1972.1 L2056.8 1970.9 L2057.7 1969.6 L2058.5 1968.3 L2059.4 1967 L2060.3 1965.7 L2061.2 1964.4 L2062 1963.1 L2062.8 1961.8 L2063.7 1960.5 L2064.5 1959.1 L2065.3 1957.8 L2066.1 1956.4 L2066.9 1955.1 L2067.7 1953.7 L2068.5 1952.3 L2069.2 1950.9 L2070 1949.5 L2070.7 1948.1 L2071.5 1946.7 L2072.2 1945.3 L2073 1943.9 L2073.7 1942.5 L2074.4 1941.1 L2075.1 1939.6 L2075.8 1938.2 L2076.5 1936.7 L2077.2 1935.3 L2077.9 1933.8 L2078.6 1932.4 L2079.3 1930.9 L2080 1929.4 L2080.6 1928 L2081.3 1926.5 L2082 1925 L2082.6 1923.5 L2083.3 1922 L2083.9 1920.5 L2084.5 1919 L2085.2 1917.5 L2085.8 1915.9 L2086.4 1914.4 L2087 1912.9 L2087.6 1911.4 L2088.3 1909.8 L2088.9 1908.3 L2089.5 1906.8 L2090.1 1905.2 L2090.6 1903.7 L2091.2 1902.1 L2088.3 1902 L2085.3 1901.8 L2082.4 1901.6 L2079.5 1901.4 L2076.5 1901.2 L2073.6 1900.9 L2070.7 1900.7 L2067.8 1900.4 L2064.9 1900.1 L2062 1899.8 L2059.1 1899.5 L2056.2 1899.2 L2053.3 1898.8 L2050.4 1898.5 L2047.5 1898.1 L2044.7 1897.7 L2041.8 1897.3 L2038.9 1896.9 L2036.1 1896.4 L2033.2 1896 L2030.4 1895.5 L2027.6 1895 L2024.8 1894.5 L2021.9 1894 L2019.1 1893.5 L2016.3 1893 L2013.5 1892.4 L2010.7 1891.9 L2008 1891.3 L2005.2 1890.7 L2002.4 1890.1 L1999.6 1889.5 L1996.9 1888.8 L1994.1 1888.2 L1991.4 1887.5 L1988.7 1886.9 L1985.9 1886.2 L1983.2 1885.5 L1980.5 1884.8 L1977.8 1884.1 L1975.1 1883.3 L1972.4 1882.6 L1969.7 1881.9 L1967 1881.1 L1964.4 1880.3 L1961.7 1879.5 L1959.1 1878.7 L1956.4 1877.9 L1953.8 1877.1 L1951.1 1876.3 L1948.5 1875.4 L1945.9 1874.6 L1943.3 1873.7 L1940.7 1872.9 L1938.1 1872 L1935.5 1871.1 L1932.9 1870.2 L1930.4 1869.3 L1927.8 1868.4 L1925.2 1867.5 L1924.1 1868.8 L1922.9 1870.1 L1921.8 1871.3 L1920.6 1872.6 L1919.4 1873.9 L1918.2 1875.2 L1917 1876.4 L1915.8 1877.7 L1914.6 1878.9 L1913.4 1880.2 L1912.1 1881.4 L1910.9 1882.7 L1909.6 1883.9 L1908.4 1885.1 L1907.1 1886.3 L1905.8 1887.5 L1904.5 1888.7 L1903.2 1889.9 L1901.8 1891.1 L1900.5 1892.2 L1899.1 1893.4 L1897.8 1894.5 L1896.4 1895.7 L1895 1896.8 L1893.6 1897.9 L1892.2 1899 L1890.8 1900.1 L1889.3 1901.2 L1887.9 1902.3 L1886.4 1903.4 L1884.9 1904.5 L1883.4 1905.5 L1881.9 1906.5 L1880.3 1907.6 L1878.8 1908.6 L1877.2 1909.6 L1875.7 1910.6 L1874.1 1911.6 L1872.4 1912.6 L1870.8 1913.5 L1869.2 1914.5 L1867.5 1915.4 L1865.8 1916.3 L1864.1 1917.3 L1862.4 1918.2 L1860.6 1919 L1858.9 1919.9 L1857.1 1920.8 L1855.3 1921.6 L1853.5 1922.5 L1851.6 1923.3 L1849.7 1924.1 L1847.8 1924.9 L1845.9 1925.7 L1844 1926.4 L1842 1927.2 L1840 1927.9 L1838 1928.6 L1836 1929.3 L1833.9 1930 L1836.9 1931.3 L1839.8 1932.6 L1842.8 1933.8 L1845.8 1935.1 L1848.8 1936.4 L1851.8 1937.6 L1854.9 1938.9 L1857.9 1940.1 L1861 1941.4 L1864.1 1942.6 L1867.2 1943.8 L1870.4 1945 L1873.5 1946.2 L1876.7 1947.4 L1879.9 1948.6 L1883.1 1949.7 L1886.4 1950.9 L1889.6 1952 L1892.9 1953.2 L1896.2 1954.3 L1899.5 1955.4 L1902.9 1956.5 L1906.2 1957.6 L1909.6 1958.7 L1913 1959.7 L1916.4 1960.8 L1919.9 1961.8 L1923.3 1962.8 L1926.8 1963.8 L1930.3 1964.8 L1933.8 1965.8 L1937.4 1966.8 L1940.9 1967.7 L1944.5 1968.6 L1948.1 1969.6 L1951.8 1970.5 L1955.4 1971.3 L1959.1 1972.2 L1962.8 1973 L1966.5 1973.8 L1970.2 1974.6 L1974 1975.4 L1977.7 1976.2 L1981.5 1976.9 L1985.3 1977.6 L1989.2 1978.3 L1993 1979 L1996.9 1979.6 L2000.8 1980.3 L2004.7 1980.9 L2008.6 1981.4 L2012.6 1982 L2016.5 1982.5 L2020.5 1983 L2024.5 1983.4 L2028.6 1983.9 L2032.6 1984.3 L2036.7 1984.6 L2040.8 1985Z"/>
<path d="M2055.4 1989.9 L2054.3 1991 L2053.3 1992 L2052.2 1993.1 L2051.1 1994.2 L2050 1995.2 L2048.8 1996.3 L2047.7 1997.3 L2046.5 1998.3 L2045.2 1999.3 L2044 2000.2 L2042.6 2001.2 L2041.3 2002.1 L2039.9 2003 L2038.5 2003.9 L2037 2004.8 L2035.4 2005.6 L2033.8 2006.5 L2032.1 2007.3 L2030.3 2008.1 L2028.4 2008.8 L2026.3 2009.5 L2024.2 2010.2 L2021.8 2010.9 L2019.3 2011.5 L2016.5 2012 L2013.3 2012.5 L2009.8 2013 L2005.6 2013.4 L2000.8 2013.6 L1995 2013.8 L1988.2 2013.9 L1980.1 2013.9 L1970.9 2013.8 L1960.7 2013.6 L1949.8 2013.2 L1938.3 2012.8 L1926.6 2012.4 L1914.9 2011.9 L1903.1 2011.3 L1891.4 2010.7 L1879.9 2010 L1868.6 2009.3 L1857.4 2008.6 L1846.4 2007.9 L1835.6 2007.1 L1825 2006.3 L1814.6 2005.5 L1804.4 2004.7 L1794.4 2003.8 L1784.5 2003 L1774.8 2002.1 L1765.3 2001.2 L1755.9 2000.2 L1746.6 1999.3 L1737.5 1998.4 L1728.5 1997.4 L1719.6 1996.4 L1710.9 1995.4 L1702.3 1994.4 L1693.8 1993.4 L1690.8 1993.6 L1687.5 1993.8 L1683.9 1993.9 L1680 1994 L1675.9 1994 L1671.4 1994 L1666.6 1994 L1661.5 1993.9 L1656.2 1993.8 L1650.5 1993.7 L1644.6 1993.5 L1638.4 1993.3 L1631.9 1993 L1630.2 1993 L2043 2016.5 L2455.8 1993 L2454.3 1992.7 L2452.8 1992.4 L2451.5 1992.1 L2450.5 1991.7 L2449.7 1991.3 L2449.2 1990.8 L2449 1990.4 L2449 1989.8 L2449.2 1989.3 L2449.6 1988.8 L2450.2 1988.2 L2450.9 1987.6 L2451.8 1986.9 L2452.9 1986.2 L2454.2 1985.6 L2455.5 1984.9 L2457 1984.1 L2458.6 1983.4 L2460.3 1982.6 L2462.1 1981.8 L2464 1981 L2466 1980.2 L2468.1 1979.3 L2470.2 1978.4 L2472.4 1977.5 L2474.7 1976.6 L2477 1975.7 L2479.4 1974.8 L2481.8 1973.8 L2484.3 1972.9 L2486.8 1971.9 L2489.4 1970.9 L2491.9 1969.9 L2494.5 1968.9 L2497.2 1967.9 L2499.8 1966.8 L2502.5 1965.8 L2505.2 1964.7 L2508 1963.6 L2510.7 1962.6 L2513.5 1961.5 L2516.2 1960.4 L2519 1959.2 L2521.8 1958.1 L2524.6 1957 L2527.4 1955.8 L2530.2 1954.7 L2525 1955.2 L2519.9 1955.8 L2514.8 1956.3 L2509.8 1956.8 L2504.8 1957.3 L2499.9 1957.8 L2495 1958.2 L2490.1 1958.6 L2485.3 1959.1 L2480.6 1959.4 L2475.9 1959.8 L2471.3 1960.2 L2466.7 1960.5 L2462.2 1960.8 L2457.7 1961.1 L2453.3 1961.4 L2449 1961.6 L2444.7 1961.8 L2440.5 1962 L2436.4 1962.2 L2432.3 1962.4 L2428.4 1962.5 L2424.4 1962.6 L2420.6 1962.7 L2416.8 1962.8 L2413.1 1962.8 L2409.5 1962.8 L2405.9 1962.8 L2402.4 1962.8 L2399 1962.7 L2395.7 1962.7 L2392.4 1962.6 L2389.2 1962.5 L2386.1 1962.3 L2383.1 1962.1 L2380.1 1962 L2377.2 1961.7 L2374.4 1961.5 L2371.6 1961.3 L2368.9 1961 L2366.3 1960.7 L2363.7 1960.3 L2361.3 1960 L2358.8 1959.6 L2356.5 1959.2 L2354.2 1958.8 L2352 1958.4 L2349.8 1957.9 L2347.7 1957.5 L2345.7 1957 L2343.7 1956.4 L2341.8 1955.9 L2339.9 1955.3 L2338.1 1954.8 L2336.3 1954.2 L2334.6 1953.6 L2332.9 1952.9 L2331.3 1952.3 L2329.7 1951.6 L2328.2 1950.9 L2324.1 1952.1 L2319.9 1953.2 L2315.6 1954.4 L2311.4 1955.5 L2307.1 1956.6 L2302.8 1957.8 L2298.5 1958.9 L2294.2 1960 L2289.8 1961.1 L2285.5 1962.1 L2281.1 1963.2 L2276.6 1964.2 L2272.2 1965.3 L2267.7 1966.3 L2263.2 1967.3 L2258.7 1968.3 L2254.2 1969.3 L2249.6 1970.3 L2245.1 1971.2 L2240.5 1972.2 L2235.9 1973.1 L2231.3 1974 L2226.6 1974.9 L2222 1975.7 L2217.3 1976.6 L2212.6 1977.4 L2207.9 1978.2 L2203.2 1979 L2198.5 1979.8 L2193.8 1980.6 L2189 1981.3 L2184.3 1982 L2179.6 1982.7 L2174.8 1983.4 L2170.1 1984 L2165.3 1984.6 L2160.6 1985.2 L2155.8 1985.7 L2151.1 1986.3 L2146.4 1986.8 L2141.7 1987.2 L2136.9 1987.7 L2132.2 1988.1 L2127.6 1988.5 L2122.9 1988.8 L2118.2 1989.1 L2113.6 1989.4 L2109 1989.7 L2104.4 1989.9 L2099.8 1990 L2095.3 1990.2 L2090.7 1990.3 L2086.2 1990.4 L2081.8 1990.4 L2077.3 1990.4 L2072.9 1990.4 L2068.5 1990.3 L2064.1 1990.2 L2059.7 1990Z"/>
<path d="M2041.1 1989 L2039.9 1990.1 L2038.7 1991.2 L2037.5 1992.2 L2036.3 1993.3 L2035 1994.3 L2033.7 1995.3 L2032.3 1996.3 L2030.9 1997.3 L2029.5 1998.2 L2028 1999.2 L2026.5 2000.1 L2024.9 2001 L2023.3 2001.9 L2021.6 2002.7 L2019.8 2003.5 L2018 2004.4 L2016.1 2005.1 L2014 2005.9 L2011.9 2006.6 L2009.6 2007.3 L2007.2 2008 L2004.6 2008.6 L2001.8 2009.1 L1998.8 2009.7 L1995.5 2010.2 L1991.9 2010.6 L1987.8 2010.9 L1983.4 2011.2 L1978.4 2011.5 L1972.9 2011.6 L1966.7 2011.7 L1959.9 2011.7 L1952.5 2011.6 L1944.5 2011.4 L1935.9 2011.1 L1926.9 2010.8 L1917.5 2010.5 L1907.9 2010 L1898.1 2009.5 L1888.1 2009 L1878.1 2008.4 L1868.1 2007.8 L1858.1 2007.2 L1848.1 2006.5 L1838.2 2005.8 L1828.4 2005 L1818.7 2004.2 L1809 2003.5 L1799.5 2002.6 L1790.1 2001.8 L1780.8 2000.9 L1771.6 2000.1 L1762.5 1999.2 L1753.5 1998.3 L1744.6 1997.4 L1735.9 1996.4 L1727.2 1995.5 L1718.6 1994.5 L1710.2 1993.5 L1701.8 1992.5 L1703.6 1992.2 L1705.3 1991.8 L1706.6 1991.4 L1707.8 1991 L1708.8 1990.5 L1709.5 1990 L1710.1 1989.5 L1710.5 1988.9 L1710.7 1988.3 L1710.8 1987.7 L1710.7 1987.1 L1710.5 1986.4 L1710.1 1985.7 L1709.7 1985 L1709.1 1984.3 L1708.4 1983.5 L1707.6 1982.7 L1706.8 1981.9 L1705.8 1981.1 L1704.8 1980.3 L1703.7 1979.4 L1702.5 1978.6 L1701.3 1977.7 L1700 1976.8 L1698.6 1975.8 L1697.2 1974.9 L1695.8 1973.9 L1694.3 1973 L1692.8 1972 L1691.2 1971 L1689.6 1970 L1688 1968.9 L1686.4 1967.9 L1684.7 1966.8 L1683 1965.8 L1681.3 1964.7 L1679.5 1963.6 L1677.7 1962.5 L1676 1961.4 L1674.2 1960.2 L1672.4 1959.1 L1670.5 1958 L1668.7 1956.8 L1666.9 1955.6 L1665 1954.5 L1663.2 1953.3 L1661.3 1952.1 L1659.4 1950.9 L1657.6 1949.7 L1655.7 1948.5 L1653.8 1947.2 L1651.9 1946 L1650 1944.8 L1648.1 1943.5 L1646.2 1942.3 L1644.4 1941 L1642.5 1939.7 L1640.6 1938.5 L1638.7 1937.2 L1636.8 1935.9 L1640.9 1936.4 L1645 1936.8 L1649 1937.3 L1653 1937.7 L1657 1938.1 L1661 1938.5 L1665 1938.9 L1668.9 1939.3 L1672.8 1939.6 L1676.6 1939.9 L1680.5 1940.2 L1684.3 1940.5 L1688.1 1940.8 L1691.8 1941.1 L1695.5 1941.3 L1699.2 1941.5 L1702.9 1941.7 L1706.5 1941.9 L1710.1 1942.1 L1713.7 1942.2 L1717.2 1942.3 L1720.7 1942.4 L1724.1 1942.5 L1727.5 1942.6 L1730.9 1942.7 L1734.3 1942.7 L1737.6 1942.7 L1740.9 1942.7 L1744.1 1942.7 L1747.3 1942.6 L1750.4 1942.5 L1753.6 1942.4 L1756.7 1942.3 L1759.7 1942.2 L1762.7 1942.1 L1765.7 1941.9 L1768.7 1941.7 L1771.6 1941.5 L1774.4 1941.3 L1777.3 1941 L1780.1 1940.8 L1782.8 1940.5 L1785.6 1940.2 L1788.2 1939.8 L1790.9 1939.5 L1793.5 1939.1 L1796.1 1938.8 L1798.7 1938.4 L1801.2 1937.9 L1803.7 1937.5 L1806.1 1937 L1808.5 1936.6 L1810.9 1936.1 L1813.3 1935.6 L1815.6 1935 L1817.9 1934.5 L1820.2 1933.9 L1822.4 1933.4 L1824.6 1932.8 L1826.8 1932.2 L1829.8 1933.5 L1832.7 1934.8 L1835.7 1936.1 L1838.7 1937.4 L1841.7 1938.6 L1844.8 1939.9 L1847.8 1941.2 L1850.9 1942.4 L1854 1943.7 L1857.1 1944.9 L1860.3 1946.2 L1863.4 1947.4 L1866.6 1948.6 L1869.8 1949.8 L1873 1951 L1876.3 1952.2 L1879.5 1953.4 L1882.8 1954.6 L1886.1 1955.7 L1889.5 1956.9 L1892.8 1958 L1896.2 1959.1 L1899.6 1960.2 L1903 1961.3 L1906.4 1962.4 L1909.9 1963.5 L1913.4 1964.6 L1916.9 1965.6 L1920.4 1966.7 L1924 1967.7 L1927.5 1968.7 L1931.1 1969.7 L1934.8 1970.6 L1938.4 1971.6 L1942.1 1972.5 L1945.8 1973.5 L1949.5 1974.4 L1953.2 1975.3 L1957 1976.1 L1960.7 1977 L1964.5 1977.8 L1968.4 1978.6 L1972.2 1979.4 L1976.1 1980.2 L1980 1980.9 L1983.9 1981.7 L1987.8 1982.4 L1991.8 1983 L1995.8 1983.7 L1999.8 1984.3 L2003.8 1984.9 L2007.9 1985.5 L2012 1986 L2016.1 1986.6 L2020.2 1987 L2024.3 1987.5 L2028.5 1987.9 L2032.7 1988.3 L2036.9 1988.7Z"/>
<path d="M2556.7 1856.6 L2554.8 1856.1 L2552.9 1855.5 L2551 1855 L2549.1 1854.4 L2547.3 1853.8 L2545.5 1853.2 L2543.7 1852.6 L2541.9 1852 L2540.2 1851.4 L2538.5 1850.8 L2536.8 1850.1 L2535.1 1849.4 L2533.4 1848.8 L2531.7 1848.1 L2530.1 1847.4 L2528.5 1846.7 L2526.9 1845.9 L2525.3 1845.2 L2523.8 1844.5 L2522.2 1843.7 L2520.7 1842.9 L2519.2 1842.2 L2517.7 1841.4 L2516.2 1840.6 L2514.8 1839.8 L2513.3 1838.9 L2511.9 1838.1 L2510.5 1837.3 L2509.1 1836.4 L2507.7 1835.6 L2506.4 1834.7 L2505 1833.8 L2503.7 1832.9 L2502.4 1832 L2501.1 1831.1 L2499.8 1830.2 L2498.6 1829.2 L2497.3 1828.3 L2496.1 1827.4 L2494.8 1826.4 L2493.6 1825.4 L2492.4 1824.5 L2491.2 1823.5 L2490.1 1822.5 L2488.9 1821.5 L2487.7 1820.5 L2486.6 1819.5 L2485.5 1818.4 L2484.4 1817.4 L2483.3 1816.4 L2482.2 1815.3 L2481.1 1814.2 L2480 1813.2 L2479 1812.1 L2477.9 1811 L2476.9 1810 L2475.9 1808.9 L2474.9 1807.8 L2473.9 1806.7 L2472.9 1805.5 L2475.8 1804.1 L2478.6 1802.6 L2481.5 1801.1 L2484.4 1799.6 L2487.2 1798.1 L2490.1 1796.6 L2492.9 1795.1 L2495.7 1793.6 L2498.6 1792 L2501.4 1790.5 L2504.2 1789 L2507 1787.4 L2509.8 1785.9 L2512.6 1784.3 L2515.4 1782.8 L2518.2 1781.2 L2521 1779.6 L2523.7 1778 L2526.5 1776.5 L2529.2 1774.9 L2532 1773.3 L2534.7 1771.7 L2537.4 1770.1 L2540.1 1768.5 L2542.8 1766.9 L2545.5 1765.3 L2548.2 1763.6 L2550.9 1762 L2553.6 1760.4 L2556.2 1758.8 L2558.9 1757.1 L2561.6 1755.5 L2564.2 1753.8 L2566.8 1752.2 L2569.4 1750.5 L2572.1 1748.9 L2574.7 1747.2 L2577.3 1745.6 L2579.9 1743.9 L2582.4 1742.2 L2585 1740.6 L2587.6 1738.9 L2590.1 1737.2 L2592.7 1735.5 L2595.2 1733.8 L2597.7 1732.2 L2600.2 1730.5 L2602.7 1728.8 L2605.2 1727.1 L2607.7 1725.4 L2610.2 1723.7 L2612.7 1722 L2615.1 1720.3 L2617.6 1718.6 L2620 1716.9 L2622.5 1715.2 L2624.9 1713.4 L2627.3 1711.7 L2629.7 1710 L2632.1 1708.3 L2633.4 1709.1 L2634.8 1710 L2636.2 1710.8 L2637.6 1711.7 L2639 1712.5 L2640.4 1713.3 L2641.8 1714.2 L2643.2 1715 L2644.6 1715.8 L2646.1 1716.6 L2647.5 1717.4 L2648.9 1718.2 L2650.4 1719 L2651.9 1719.7 L2653.4 1720.5 L2654.8 1721.3 L2656.3 1722 L2657.9 1722.8 L2659.4 1723.5 L2660.9 1724.2 L2662.4 1725 L2664 1725.7 L2665.5 1726.4 L2667.1 1727.1 L2668.6 1727.8 L2670.2 1728.5 L2671.8 1729.2 L2673.4 1729.9 L2675 1730.5 L2676.6 1731.2 L2678.3 1731.8 L2679.9 1732.5 L2681.6 1733.1 L2683.2 1733.8 L2684.9 1734.4 L2686.6 1735 L2688.3 1735.6 L2690 1736.2 L2691.7 1736.8 L2693.4 1737.4 L2695.1 1737.9 L2696.9 1738.5 L2698.6 1739.1 L2700.4 1739.6 L2702.1 1740.1 L2703.9 1740.7 L2705.7 1741.2 L2707.5 1741.7 L2709.3 1742.2 L2711.2 1742.7 L2713 1743.2 L2714.8 1743.7 L2716.7 1744.2 L2718.6 1744.6 L2720.4 1745.1 L2722.3 1745.5 L2724.2 1745.9 L2726.1 1746.4 L2728.1 1746.8 L2730 1747.2 L2727.5 1749.1 L2725 1751 L2722.5 1752.9 L2719.9 1754.8 L2717.4 1756.7 L2714.8 1758.5 L2712.3 1760.4 L2709.7 1762.3 L2707.1 1764.2 L2704.5 1766.1 L2701.8 1768 L2699.2 1769.8 L2696.6 1771.7 L2693.9 1773.6 L2691.2 1775.5 L2688.5 1777.3 L2685.8 1779.2 L2683.1 1781.1 L2680.4 1783 L2677.6 1784.8 L2674.9 1786.7 L2672.1 1788.5 L2669.3 1790.4 L2666.5 1792.3 L2663.7 1794.1 L2660.9 1796 L2658 1797.8 L2655.2 1799.6 L2652.3 1801.5 L2649.4 1803.3 L2646.5 1805.2 L2643.6 1807 L2640.7 1808.8 L2637.8 1810.6 L2634.8 1812.5 L2631.9 1814.3 L2628.9 1816.1 L2625.9 1817.9 L2622.9 1819.7 L2619.9 1821.5 L2616.9 1823.3 L2613.8 1825.1 L2610.8 1826.9 L2607.7 1828.7 L2604.6 1830.4 L2601.5 1832.2 L2598.4 1834 L2595.3 1835.8 L2592.1 1837.5 L2589 1839.3 L2585.8 1841 L2582.6 1842.8 L2579.4 1844.5 L2576.2 1846.3 L2573 1848 L2569.8 1849.7 L2566.5 1851.4 L2563.3 1853.2 L2560 1854.9Z"/>
<path d="M2545.6 1862.2 L2543.7 1861.7 L2541.9 1861.1 L2540 1860.6 L2538.1 1860 L2536.3 1859.4 L2534.5 1858.8 L2532.7 1858.2 L2531 1857.6 L2529.3 1856.9 L2527.5 1856.3 L2525.8 1855.6 L2524.2 1855 L2522.5 1854.3 L2520.9 1853.6 L2519.3 1852.9 L2517.7 1852.1 L2516.1 1851.4 L2514.5 1850.7 L2513 1849.9 L2511.5 1849.1 L2510 1848.4 L2508.5 1847.6 L2507 1846.8 L2505.6 1846 L2504.2 1845.1 L2502.7 1844.3 L2501.4 1843.4 L2500 1842.6 L2498.6 1841.7 L2497.3 1840.9 L2495.9 1840 L2494.6 1839.1 L2493.3 1838.2 L2492 1837.2 L2490.8 1836.3 L2489.5 1835.4 L2488.3 1834.4 L2487 1833.5 L2485.8 1832.5 L2484.6 1831.6 L2483.4 1830.6 L2482.3 1829.6 L2481.1 1828.6 L2480 1827.6 L2478.8 1826.6 L2477.7 1825.5 L2476.6 1824.5 L2475.5 1823.5 L2474.4 1822.4 L2473.3 1821.4 L2472.3 1820.3 L2471.2 1819.2 L2470.2 1818.1 L2469.2 1817.1 L2468.2 1816 L2467.2 1814.9 L2466.2 1813.8 L2465.2 1812.6 L2464.2 1811.5 L2463.2 1810.4 L2460.3 1811.8 L2457.4 1813.3 L2454.5 1814.7 L2451.6 1816.1 L2448.6 1817.6 L2445.7 1819 L2442.8 1820.4 L2439.8 1821.8 L2436.9 1823.1 L2433.9 1824.5 L2430.9 1825.9 L2428 1827.3 L2425 1828.6 L2422 1830 L2419.1 1831.3 L2416.1 1832.6 L2413.1 1833.9 L2410.1 1835.3 L2407.1 1836.6 L2404.1 1837.9 L2401.1 1839.1 L2398.1 1840.4 L2395.1 1841.7 L2392.1 1842.9 L2389 1844.2 L2386 1845.4 L2383 1846.7 L2380 1847.9 L2377 1849.1 L2373.9 1850.3 L2370.9 1851.5 L2367.9 1852.7 L2364.8 1853.8 L2361.8 1855 L2358.8 1856.2 L2355.7 1857.3 L2352.7 1858.4 L2349.6 1859.6 L2346.6 1860.7 L2343.6 1861.8 L2340.5 1862.9 L2337.5 1863.9 L2334.4 1865 L2331.4 1866.1 L2328.3 1867.1 L2325.3 1868.2 L2322.2 1869.2 L2319.2 1870.2 L2316.2 1871.2 L2313.1 1872.2 L2310.1 1873.2 L2307 1874.1 L2304 1875.1 L2301 1876 L2297.9 1877 L2294.9 1877.9 L2291.9 1878.8 L2288.8 1879.7 L2285.8 1880.6 L2282.8 1881.5 L2283.1 1882.8 L2283.3 1884.2 L2283.6 1885.6 L2283.9 1886.9 L2284.2 1888.3 L2284.5 1889.6 L2284.8 1890.9 L2285.1 1892.3 L2285.4 1893.6 L2285.8 1894.9 L2286.1 1896.2 L2286.5 1897.5 L2286.8 1898.8 L2287.2 1900.1 L2287.6 1901.4 L2287.9 1902.7 L2288.3 1904 L2288.7 1905.2 L2289.1 1906.5 L2289.6 1907.7 L2290 1909 L2290.5 1910.2 L2290.9 1911.4 L2291.4 1912.7 L2291.9 1913.9 L2292.4 1915.1 L2292.9 1916.2 L2293.4 1917.4 L2293.9 1918.6 L2294.5 1919.8 L2295.1 1920.9 L2295.7 1922.1 L2296.3 1923.2 L2296.9 1924.3 L2297.5 1925.4 L2298.2 1926.5 L2298.8 1927.6 L2299.5 1928.7 L2300.3 1929.7 L2301 1930.8 L2301.7 1931.8 L2302.5 1932.9 L2303.3 1933.9 L2304.2 1934.9 L2305 1935.9 L2305.9 1936.9 L2306.8 1937.8 L2307.7 1938.8 L2308.7 1939.7 L2309.6 1940.6 L2310.7 1941.6 L2311.7 1942.5 L2312.8 1943.3 L2313.9 1944.2 L2315 1945.1 L2316.2 1945.9 L2317.4 1946.7 L2318.7 1947.5 L2320 1948.3 L2321.3 1949.1 L2325.4 1947.9 L2329.5 1946.7 L2333.6 1945.6 L2337.6 1944.4 L2341.7 1943.2 L2345.7 1942 L2349.8 1940.7 L2353.8 1939.5 L2357.8 1938.3 L2361.8 1937 L2365.8 1935.7 L2369.8 1934.4 L2373.7 1933.2 L2377.7 1931.8 L2381.6 1930.5 L2385.6 1929.2 L2389.5 1927.9 L2393.4 1926.5 L2397.3 1925.2 L2401.2 1923.8 L2405 1922.4 L2408.9 1921 L2412.7 1919.7 L2416.6 1918.2 L2420.4 1916.8 L2424.2 1915.4 L2428 1914 L2431.8 1912.5 L2435.5 1911.1 L2439.3 1909.6 L2443 1908.2 L2446.8 1906.7 L2450.5 1905.2 L2454.2 1903.7 L2457.9 1902.2 L2461.5 1900.7 L2465.2 1899.2 L2468.8 1897.6 L2472.5 1896.1 L2476.1 1894.6 L2479.7 1893 L2483.3 1891.5 L2486.9 1889.9 L2490.4 1888.3 L2494 1886.7 L2497.5 1885.2 L2501 1883.6 L2504.6 1882 L2508.1 1880.4 L2511.5 1878.7 L2515 1877.1 L2518.5 1875.5 L2521.9 1873.8 L2525.3 1872.2 L2528.8 1870.6 L2532.2 1868.9 L2535.6 1867.2 L2538.9 1865.6 L2542.3 1863.9Z"/>
<path d="M2563.3 1858.2 L2565.3 1858.7 L2567.3 1859.2 L2569.4 1859.6 L2571.5 1860 L2573.6 1860.4 L2575.7 1860.8 L2577.8 1861.2 L2580 1861.6 L2582.2 1862 L2584.4 1862.3 L2586.7 1862.6 L2588.9 1863 L2591.2 1863.3 L2593.6 1863.6 L2595.9 1863.8 L2598.3 1864.1 L2600.6 1864.3 L2603.1 1864.6 L2605.5 1864.8 L2607.9 1865 L2610.4 1865.2 L2612.9 1865.4 L2615.5 1865.5 L2618 1865.7 L2620.6 1865.8 L2623.2 1865.9 L2625.8 1866 L2628.5 1866.1 L2631.2 1866.2 L2633.9 1866.3 L2636.6 1866.3 L2639.3 1866.4 L2642.1 1866.4 L2644.9 1866.4 L2647.7 1866.4 L2650.5 1866.4 L2653.4 1866.3 L2656.3 1866.3 L2659.2 1866.2 L2662.1 1866.2 L2665.1 1866.1 L2668 1866 L2671 1865.9 L2674.1 1865.7 L2677.1 1865.6 L2680.2 1865.4 L2683.2 1865.3 L2686.3 1865.1 L2689.4 1864.9 L2692.6 1864.7 L2695.7 1864.5 L2698.9 1864.2 L2702.1 1864 L2705.3 1863.7 L2708.6 1863.5 L2711.8 1863.2 L2715.1 1862.9 L2718.4 1862.6 L2721.7 1862.2 L2725 1861.9 L2727.8 1860.2 L2730.6 1858.5 L2733.4 1856.8 L2736.2 1855.1 L2739 1853.4 L2741.7 1851.7 L2744.5 1849.9 L2747.2 1848.2 L2750 1846.5 L2752.7 1844.7 L2755.4 1843 L2758.1 1841.3 L2760.7 1839.5 L2763.4 1837.8 L2766.1 1836 L2768.7 1834.2 L2771.4 1832.5 L2774 1830.7 L2776.6 1828.9 L2779.2 1827.2 L2781.8 1825.4 L2784.4 1823.6 L2786.9 1821.8 L2789.5 1820 L2792 1818.2 L2794.6 1816.4 L2797.1 1814.6 L2799.6 1812.8 L2802.1 1811 L2804.6 1809.2 L2807 1807.4 L2809.5 1805.6 L2812 1803.7 L2814.4 1801.9 L2816.8 1800.1 L2819.2 1798.3 L2821.6 1796.4 L2824 1794.6 L2826.4 1792.8 L2828.8 1790.9 L2831.1 1789.1 L2833.5 1787.3 L2835.8 1785.4 L2838.1 1783.6 L2840.4 1781.7 L2842.7 1779.9 L2845 1778 L2847.3 1776.2 L2849.5 1774.3 L2851.8 1772.5 L2854 1770.6 L2856.3 1768.8 L2858.5 1766.9 L2860.7 1765 L2862.9 1763.2 L2865.1 1761.3 L2867.2 1759.4 L2869.4 1757.6 L2871.5 1755.7 L2873.7 1753.8 L2871.1 1754 L2868.6 1754.2 L2866 1754.4 L2863.5 1754.5 L2861 1754.7 L2858.4 1754.8 L2855.9 1754.9 L2853.4 1755 L2850.9 1755.2 L2848.4 1755.3 L2846 1755.4 L2843.5 1755.4 L2841 1755.5 L2838.6 1755.6 L2836.2 1755.6 L2833.7 1755.7 L2831.3 1755.7 L2828.9 1755.7 L2826.5 1755.8 L2824.1 1755.8 L2821.7 1755.8 L2819.3 1755.8 L2816.9 1755.8 L2814.6 1755.7 L2812.2 1755.7 L2809.9 1755.7 L2807.6 1755.6 L2805.2 1755.5 L2802.9 1755.5 L2800.6 1755.4 L2798.3 1755.3 L2796.1 1755.2 L2793.8 1755.1 L2791.5 1755 L2789.3 1754.8 L2787 1754.7 L2784.8 1754.5 L2782.6 1754.4 L2780.4 1754.2 L2778.2 1754 L2776 1753.8 L2773.8 1753.6 L2771.7 1753.4 L2769.5 1753.2 L2767.4 1753 L2765.2 1752.8 L2763.1 1752.5 L2761 1752.3 L2758.9 1752 L2756.8 1751.7 L2754.7 1751.4 L2752.7 1751.2 L2750.6 1750.9 L2748.6 1750.5 L2746.5 1750.2 L2744.5 1749.9 L2742.5 1749.6 L2740.5 1749.2 L2738.5 1748.8 L2736.5 1748.5 L2734 1750.4 L2731.5 1752.3 L2729 1754.2 L2726.5 1756.1 L2724 1758 L2721.4 1759.9 L2718.8 1761.8 L2716.3 1763.6 L2713.7 1765.5 L2711.1 1767.4 L2708.4 1769.3 L2705.8 1771.2 L2703.2 1773.1 L2700.5 1775 L2697.8 1776.8 L2695.1 1778.7 L2692.4 1780.6 L2689.7 1782.5 L2687 1784.3 L2684.2 1786.2 L2681.5 1788.1 L2678.7 1789.9 L2675.9 1791.8 L2673.1 1793.7 L2670.3 1795.5 L2667.5 1797.4 L2664.7 1799.2 L2661.8 1801.1 L2659 1802.9 L2656.1 1804.8 L2653.2 1806.6 L2650.3 1808.4 L2647.4 1810.3 L2644.4 1812.1 L2641.5 1813.9 L2638.5 1815.8 L2635.5 1817.6 L2632.6 1819.4 L2629.5 1821.2 L2626.5 1823 L2623.5 1824.8 L2620.5 1826.6 L2617.4 1828.4 L2614.3 1830.2 L2611.2 1832 L2608.1 1833.8 L2605 1835.6 L2601.9 1837.3 L2598.8 1839.1 L2595.6 1840.9 L2592.4 1842.6 L2589.2 1844.4 L2586 1846.1 L2582.8 1847.9 L2579.6 1849.6 L2576.4 1851.3 L2573.1 1853.1 L2569.8 1854.8 L2566.6 1856.5Z"/>
<path d="M2552.2 1863.9 L2554.2 1864.4 L2556.2 1864.8 L2558.3 1865.3 L2560.4 1865.7 L2562.5 1866.1 L2564.6 1866.5 L2566.7 1866.9 L2568.9 1867.3 L2571.1 1867.7 L2573.4 1868 L2575.6 1868.4 L2577.9 1868.7 L2580.2 1869 L2582.5 1869.3 L2584.8 1869.6 L2587.2 1869.8 L2589.6 1870.1 L2592 1870.3 L2594.5 1870.6 L2597 1870.8 L2599.5 1871 L2602 1871.1 L2604.5 1871.3 L2607.1 1871.4 L2609.7 1871.6 L2612.3 1871.7 L2615 1871.8 L2617.7 1871.9 L2620.4 1872 L2623.1 1872 L2625.8 1872.1 L2628.6 1872.1 L2631.4 1872.2 L2634.2 1872.2 L2637.1 1872.2 L2640 1872.1 L2642.9 1872.1 L2645.8 1872 L2648.7 1872 L2651.7 1871.9 L2654.7 1871.8 L2657.7 1871.7 L2660.7 1871.6 L2663.8 1871.5 L2666.9 1871.3 L2670 1871.1 L2673.1 1871 L2676.2 1870.8 L2679.4 1870.6 L2682.6 1870.4 L2685.8 1870.1 L2689 1869.9 L2692.3 1869.6 L2695.6 1869.4 L2698.8 1869.1 L2702.1 1868.8 L2705.5 1868.5 L2708.8 1868.2 L2712.2 1867.8 L2715.6 1867.5 L2712.7 1869.2 L2709.8 1870.8 L2706.9 1872.5 L2704.1 1874.2 L2701.2 1875.8 L2698.2 1877.4 L2695.3 1879.1 L2692.4 1880.7 L2689.4 1882.3 L2686.5 1884 L2683.5 1885.6 L2680.5 1887.2 L2677.5 1888.8 L2674.6 1890.4 L2671.5 1892 L2668.5 1893.5 L2665.5 1895.1 L2662.5 1896.7 L2659.4 1898.2 L2656.4 1899.8 L2653.3 1901.3 L2650.2 1902.9 L2647.2 1904.4 L2644.1 1905.9 L2641 1907.5 L2637.9 1909 L2634.7 1910.5 L2631.6 1912 L2628.5 1913.5 L2625.4 1914.9 L2622.2 1916.4 L2619.1 1917.9 L2615.9 1919.3 L2612.7 1920.8 L2609.5 1922.2 L2606.4 1923.6 L2603.2 1925.1 L2600 1926.5 L2596.8 1927.9 L2593.6 1929.3 L2590.3 1930.7 L2587.1 1932.1 L2583.9 1933.4 L2580.7 1934.8 L2577.4 1936.2 L2574.2 1937.5 L2570.9 1938.8 L2567.7 1940.2 L2564.4 1941.5 L2561.2 1942.8 L2557.9 1944.1 L2554.7 1945.4 L2551.4 1946.6 L2548.1 1947.9 L2544.9 1949.2 L2541.6 1950.4 L2538.4 1951.7 L2535.1 1952.9 L2531.8 1954.1 L2528.6 1955.3 L2523.4 1955.9 L2518.3 1956.4 L2513.2 1956.9 L2508.1 1957.4 L2503.1 1957.9 L2498.1 1958.4 L2493.2 1958.9 L2488.3 1959.3 L2483.5 1959.7 L2478.7 1960.1 L2474 1960.5 L2469.3 1960.8 L2464.7 1961.2 L2460.2 1961.5 L2455.7 1961.8 L2451.3 1962 L2446.9 1962.3 L2442.7 1962.5 L2438.4 1962.7 L2434.3 1962.9 L2430.2 1963 L2426.2 1963.2 L2422.3 1963.3 L2418.4 1963.4 L2414.6 1963.4 L2410.9 1963.5 L2407.2 1963.5 L2403.7 1963.5 L2400.2 1963.5 L2396.7 1963.4 L2393.4 1963.3 L2390.1 1963.3 L2386.9 1963.1 L2383.8 1963 L2380.8 1962.8 L2377.8 1962.6 L2374.9 1962.4 L2372 1962.2 L2369.3 1961.9 L2366.6 1961.6 L2364 1961.3 L2361.4 1961 L2359 1960.7 L2356.5 1960.3 L2354.2 1959.9 L2351.9 1959.5 L2349.7 1959 L2347.5 1958.6 L2345.4 1958.1 L2343.4 1957.6 L2341.4 1957.1 L2339.5 1956.5 L2337.6 1956 L2335.8 1955.4 L2334.1 1954.8 L2332.4 1954.2 L2330.7 1953.5 L2329.1 1952.9 L2327.5 1952.2 L2326 1951.5 L2330.2 1950.3 L2334.3 1949.2 L2338.5 1948 L2342.6 1946.8 L2346.7 1945.5 L2350.8 1944.3 L2354.9 1943.1 L2359 1941.8 L2363.1 1940.5 L2367.1 1939.3 L2371.2 1938 L2375.2 1936.7 L2379.2 1935.4 L2383.2 1934.1 L2387.2 1932.7 L2391.2 1931.4 L2395.1 1930 L2399.1 1928.7 L2403 1927.3 L2406.9 1925.9 L2410.8 1924.5 L2414.7 1923.1 L2418.6 1921.7 L2422.5 1920.3 L2426.3 1918.9 L2430.1 1917.5 L2434 1916 L2437.8 1914.6 L2441.6 1913.1 L2445.3 1911.6 L2449.1 1910.1 L2452.9 1908.7 L2456.6 1907.2 L2460.3 1905.7 L2464 1904.1 L2467.7 1902.6 L2471.4 1901.1 L2475.1 1899.5 L2478.7 1898 L2482.4 1896.4 L2486 1894.9 L2489.6 1893.3 L2493.2 1891.7 L2496.8 1890.2 L2500.4 1888.6 L2503.9 1887 L2507.5 1885.4 L2511 1883.8 L2514.5 1882.1 L2518 1880.5 L2521.5 1878.9 L2524.9 1877.2 L2528.4 1875.6 L2531.8 1873.9 L2535.3 1872.3 L2538.7 1870.6 L2542.1 1868.9 L2545.5 1867.3 L2548.8 1865.6Z"/>
</g>
<g fill="none" stroke="#b0b0b0" stroke-opacity="0.5" stroke-width="6.67">
<path d="M2043 2016.5 L2140.5 2014.2 L2197.6 2010.7 L2245.4 2006.5 L2288 2001.8 L2326.9 1996.7 L2363.2 1991.3 L2397.3 1985.5 L2429.8 1979.5 L2460.7 1973.1 L2490.4 1966.6 L2518.9 1959.8 L2546.4 1952.8 L2573 1945.6 L2598.8 1938.2 L2623.8 1930.6 L2648.1 1922.8 L2671.7 1914.9 L2694.7 1906.8 L2717.1 1898.6 L2739 1890.2 L2760.3 1881.6 L2781.1 1873 L2801.4 1864.2 L2821.2 1855.2 L2840.6 1846.2 L2859.6 1837 L2878.1 1827.7 L2896.2 1818.3 L2913.9 1808.7 L2931.2 1799.1 L2948.1 1789.4 L2964.7 1779.5 L2980.9 1769.6 L2996.8 1759.5 L3012.3 1749.4 L3027.4 1739.1 L3042.2 1728.8 L3056.7 1718.4 L3070.9 1707.9 L3084.7 1697.3 L3098.2 1686.7 L3111.4 1675.9 L3124.3 1665.1 L3136.9 1654.2 L3149.2 1643.2 L3161.1 1632.2 L3172.8 1621.1 L3184.2 1609.9 L3195.3 1598.7 L3206.1 1587.4 L3216.6 1576 L3226.8 1564.6 L3236.8 1553.1 L3246.4 1541.5 L3255.8 1529.9 L3264.9 1518.3 L3273.7 1506.6 L3282.3 1494.8 L3290.6 1483 L3298.6 1471.1 L3306.3 1459.3 L3313.8 1447.3 L3321 1435.3 L3327.9 1423.3 L3334.5 1411.2 L3340.9 1399.1 L3347 1387 L3352.9 1374.8 L3358.5 1362.6 L3363.8 1350.4 L3368.9 1338.1 L3373.7 1325.8 L3378.2 1313.5 L3382.5 1301.2 L3386.5 1288.8 L3390.2 1276.4 L3393.7 1264 L3397 1251.6 L3399.9 1239.1 L3402.6 1226.7 L3405.1 1214.2 L3407.3 1201.7 L3409.2 1189.2 L3410.9 1176.7 L3412.3 1164.2 L3413.5 1151.7 L3414.4 1139.1 L3415 1126.6 L3415.4 1114 L3415.6 1101.5 L3415.4 1089 L3415 1076.4 L3414.4 1063.9 L3413.5 1051.3 L3412.3 1038.8 L3410.9 1026.3 L3409.2 1013.8 L3407.3 1001.3 L3405.1 988.8 L3402.6 976.3 L3399.9 963.9 L3397 951.4 L3393.7 939 L3390.2 926.6 L3386.5 914.2 L3382.5 901.8 L3378.2 889.5 L3373.7 877.2 L3368.9 864.9 L3363.8 852.6 L3358.5 840.4 L3352.9 828.2 L3347 816 L3340.9 803.9 L3334.5 791.8 L3327.9 779.7 L3321 767.7 L3313.8 755.7 L3306.3 743.7 L3298.6 731.9 L3290.6 720 L3282.3 708.2 L3273.7 696.4 L3264.9 684.7 L3255.8 673.1 L3246.4 661.5 L3236.8 649.9 L3226.8 638.4 L3216.6 627 L3206.1 615.6 L3195.3 604.3 L3184.2 593.1 L3172.8 581.9 L3161.1 570.8 L3149.2 559.8 L3136.9 548.8 L3124.3 537.9 L3111.4 527.1 L3098.2 516.3 L3084.7 505.7 L3070.9 495.1 L3056.7 484.6 L3042.2 474.2 L3027.4 463.9 L3012.3 453.6 L2996.8 443.5 L2980.9 433.4 L2964.7 423.5 L2948.1 413.6 L2931.2 403.9 L2913.9 394.3 L2896.2 384.7 L2878.1 375.3 L2859.6 366 L2840.6 356.8 L2821.2 347.8 L2801.4 338.8 L2781.1 330 L2760.3 321.4 L2739 312.8 L2717.1 304.4 L2694.7 296.2 L2671.7 288.1 L2648.1 280.2 L2623.8 272.4 L2598.8 264.8 L2573 257.4 L2546.4 250.2 L2518.9 243.2 L2490.4 236.4 L2460.7 229.9 L2429.8 223.5 L2397.3 217.5 L2363.2 211.7 L2326.9 206.3 L2288 201.2 L2245.4 196.5 L2197.6 192.3 L2140.5 188.8 L2043 186.5"/>
<path d="M2043 2016.5 L2108 2014.2 L2146.1 2010.7 L2178 2006.5 L2206.3 2001.8 L2232.3 1996.7 L2256.5 1991.3 L2279.2 1985.5 L2300.8 1979.5 L2321.5 1973.1 L2341.2 1966.6 L2360.3 1959.8 L2378.6 1952.8 L2396.4 1945.6 L2413.5 1938.2 L2430.2 1930.6 L2446.4 1922.8 L2462.1 1914.9 L2477.5 1906.8 L2492.4 1898.6 L2507 1890.2 L2521.2 1881.6 L2535.1 1873 L2548.6 1864.2 L2561.8 1855.2 L2574.7 1846.2 L2587.4 1837 L2599.7 1827.7 L2611.8 1818.3 L2623.6 1808.7 L2635.1 1799.1 L2646.4 1789.4 L2657.5 1779.5 L2668.3 1769.6 L2678.8 1759.5 L2689.2 1749.4 L2699.3 1739.1 L2709.1 1728.8 L2718.8 1718.4 L2728.2 1707.9 L2737.5 1697.3 L2746.5 1686.7 L2755.3 1675.9 L2763.9 1665.1 L2772.2 1654.2 L2780.4 1643.2 L2788.4 1632.2 L2796.2 1621.1 L2803.8 1609.9 L2811.2 1598.7 L2818.4 1587.4 L2825.4 1576 L2832.2 1564.6 L2838.8 1553.1 L2845.3 1541.5 L2851.5 1529.9 L2857.6 1518.3 L2863.5 1506.6 L2869.2 1494.8 L2874.7 1483 L2880 1471.1 L2885.2 1459.3 L2890.2 1447.3 L2895 1435.3 L2899.6 1423.3 L2904 1411.2 L2908.3 1399.1 L2912.4 1387 L2916.3 1374.8 L2920 1362.6 L2923.5 1350.4 L2926.9 1338.1 L2930.1 1325.8 L2933.1 1313.5 L2936 1301.2 L2938.7 1288.8 L2941.2 1276.4 L2943.5 1264 L2945.6 1251.6 L2947.6 1239.1 L2949.4 1226.7 L2951.1 1214.2 L2952.5 1201.7 L2953.8 1189.2 L2954.9 1176.7 L2955.9 1164.2 L2956.7 1151.7 L2957.3 1139.1 L2957.7 1126.6 L2957.9 1114 L2958 1101.5 L2957.9 1089 L2957.7 1076.4 L2957.3 1063.9 L2956.7 1051.3 L2955.9 1038.8 L2954.9 1026.3 L2953.8 1013.8 L2952.5 1001.3 L2951.1 988.8 L2949.4 976.3 L2947.6 963.9 L2945.6 951.4 L2943.5 939 L2941.2 926.6 L2938.7 914.2 L2936 901.8 L2933.1 889.5 L2930.1 877.2 L2926.9 864.9 L2923.5 852.6 L2920 840.4 L2916.3 828.2 L2912.4 816 L2908.3 803.9 L2904 791.8 L2899.6 779.7 L2895 767.7 L2890.2 755.7 L2885.2 743.7 L2880 731.9 L2874.7 720 L2869.2 708.2 L2863.5 696.4 L2857.6 684.7 L2851.5 673.1 L2845.3 661.5 L2838.8 649.9 L2832.2 638.4 L2825.4 627 L2818.4 615.6 L2811.2 604.3 L2803.8 593.1 L2796.2 581.9 L2788.4 570.8 L2780.4 559.8 L2772.2 548.8 L2763.9 537.9 L2755.3 527.1 L2746.5 516.3 L2737.5 505.7 L2728.2 495.1 L2718.8 484.6 L2709.1 474.2 L2699.3 463.9 L2689.2 453.6 L2678.8 443.5 L2668.3 433.4 L2657.5 423.5 L2646.4 413.6 L2635.1 403.9 L2623.6 394.3 L2611.8 384.7 L2599.7 375.3 L2587.4 366 L2574.7 356.8 L2561.8 347.8 L2548.6 338.8 L2535.1 330 L2521.2 321.4 L2507 312.8 L2492.4 304.4 L2477.5 296.2 L2462.1 288.1 L2446.4 280.2 L2430.2 272.4 L2413.5 264.8 L2396.4 257.4 L2378.6 250.2 L2360.3 243.2 L2341.2 236.4 L2321.5 229.9 L2300.8 223.5 L2279.2 217.5 L2256.5 211.7 L2232.3 206.3 L2206.3 201.2 L2178 196.5 L2146.1 192.3 L2108 188.8 L2043 186.5"/>
<path d="M2043 2016.5 L2075.5 2014.2 L2094.5 2010.7 L2110.5 2006.5 L2124.7 2001.8 L2137.6 1996.7 L2149.7 1991.3 L2161.1 1985.5 L2171.9 1979.5 L2182.2 1973.1 L2192.1 1966.6 L2201.6 1959.8 L2210.8 1952.8 L2219.7 1945.6 L2228.3 1938.2 L2236.6 1930.6 L2244.7 1922.8 L2252.6 1914.9 L2260.2 1906.8 L2267.7 1898.6 L2275 1890.2 L2282.1 1881.6 L2289 1873 L2295.8 1864.2 L2302.4 1855.2 L2308.9 1846.2 L2315.2 1837 L2321.4 1827.7 L2327.4 1818.3 L2333.3 1808.7 L2339.1 1799.1 L2344.7 1789.4 L2350.2 1779.5 L2355.6 1769.6 L2360.9 1759.5 L2366.1 1749.4 L2371.1 1739.1 L2376.1 1728.8 L2380.9 1718.4 L2385.6 1707.9 L2390.2 1697.3 L2394.7 1686.7 L2399.1 1675.9 L2403.4 1665.1 L2407.6 1654.2 L2411.7 1643.2 L2415.7 1632.2 L2419.6 1621.1 L2423.4 1609.9 L2427.1 1598.7 L2430.7 1587.4 L2434.2 1576 L2437.6 1564.6 L2440.9 1553.1 L2444.1 1541.5 L2447.3 1529.9 L2450.3 1518.3 L2453.2 1506.6 L2456.1 1494.8 L2458.9 1483 L2461.5 1471.1 L2464.1 1459.3 L2466.6 1447.3 L2469 1435.3 L2471.3 1423.3 L2473.5 1411.2 L2475.6 1399.1 L2477.7 1387 L2479.6 1374.8 L2481.5 1362.6 L2483.3 1350.4 L2485 1338.1 L2486.6 1325.8 L2488.1 1313.5 L2489.5 1301.2 L2490.8 1288.8 L2492.1 1276.4 L2493.2 1264 L2494.3 1251.6 L2495.3 1239.1 L2496.2 1226.7 L2497 1214.2 L2497.8 1201.7 L2498.4 1189.2 L2499 1176.7 L2499.4 1164.2 L2499.8 1151.7 L2500.1 1139.1 L2500.3 1126.6 L2500.5 1114 L2500.5 1101.5 L2500.5 1089 L2500.3 1076.4 L2500.1 1063.9 L2499.8 1051.3 L2499.4 1038.8 L2499 1026.3 L2498.4 1013.8 L2497.8 1001.3 L2497 988.8 L2496.2 976.3 L2495.3 963.9 L2494.3 951.4 L2493.2 939 L2492.1 926.6 L2490.8 914.2 L2489.5 901.8 L2488.1 889.5 L2486.6 877.2 L2485 864.9 L2483.3 852.6 L2481.5 840.4 L2479.6 828.2 L2477.7 816 L2475.6 803.9 L2473.5 791.8 L2471.3 779.7 L2469 767.7 L2466.6 755.7 L2464.1 743.7 L2461.5 731.9 L2458.9 720 L2456.1 708.2 L2453.2 696.4 L2450.3 684.7 L2447.3 673.1 L2444.1 661.5 L2440.9 649.9 L2437.6 638.4 L2434.2 627 L2430.7 615.6 L2427.1 604.3 L2423.4 593.1 L2419.6 581.9 L2415.7 570.8 L2411.7 559.8 L2407.6 548.8 L2403.4 537.9 L2399.1 527.1 L2394.7 516.3 L2390.2 505.7 L2385.6 495.1 L2380.9 484.6 L2376.1 474.2 L2371.1 463.9 L2366.1 453.6 L2360.9 443.5 L2355.6 433.4 L2350.2 423.5 L2344.7 413.6 L2339.1 403.9 L2333.3 394.3 L2327.4 384.7 L2321.4 375.3 L2315.2 366 L2308.9 356.8 L2302.4 347.8 L2295.8 338.8 L2289 330 L2282.1 321.4 L2275 312.8 L2267.7 304.4 L2260.2 296.2 L2252.6 288.1 L2244.7 280.2 L2236.6 272.4 L2228.3 264.8 L2219.7 257.4 L2210.8 250.2 L2201.6 243.2 L2192.1 236.4 L2182.2 229.9 L2171.9 223.5 L2161.1 217.5 L2149.7 211.7 L2137.6 206.3 L2124.7 201.2 L2110.5 196.5 L2094.5 192.3 L2075.5 188.8 L2043 186.5"/>
<path d="M2043 2016.5 L2010.5 2014.2 L1991.5 2010.7 L1975.5 2006.5 L1961.3 2001.8 L1948.4 1996.7 L1936.3 1991.3 L1924.9 1985.5 L1914.1 1979.5 L1903.8 1973.1 L1893.9 1966.6 L1884.4 1959.8 L1875.2 1952.8 L1866.3 1945.6 L1857.7 1938.2 L1849.4 1930.6 L1841.3 1922.8 L1833.4 1914.9 L1825.8 1906.8 L1818.3 1898.6 L1811 1890.2 L1803.9 1881.6 L1797 1873 L1790.2 1864.2 L1783.6 1855.2 L1777.1 1846.2 L1770.8 1837 L1764.6 1827.7 L1758.6 1818.3 L1752.7 1808.7 L1746.9 1799.1 L1741.3 1789.4 L1735.8 1779.5 L1730.4 1769.6 L1725.1 1759.5 L1719.9 1749.4 L1714.9 1739.1 L1709.9 1728.8 L1705.1 1718.4 L1700.4 1707.9 L1695.8 1697.3 L1691.3 1686.7 L1686.9 1675.9 L1682.6 1665.1 L1678.4 1654.2 L1674.3 1643.2 L1670.3 1632.2 L1666.4 1621.1 L1662.6 1609.9 L1658.9 1598.7 L1655.3 1587.4 L1651.8 1576 L1648.4 1564.6 L1645.1 1553.1 L1641.9 1541.5 L1638.7 1529.9 L1635.7 1518.3 L1632.8 1506.6 L1629.9 1494.8 L1627.1 1483 L1624.5 1471.1 L1621.9 1459.3 L1619.4 1447.3 L1617 1435.3 L1614.7 1423.3 L1612.5 1411.2 L1610.4 1399.1 L1608.3 1387 L1606.4 1374.8 L1604.5 1362.6 L1602.7 1350.4 L1601 1338.1 L1599.4 1325.8 L1597.9 1313.5 L1596.5 1301.2 L1595.2 1288.8 L1593.9 1276.4 L1592.8 1264 L1591.7 1251.6 L1590.7 1239.1 L1589.8 1226.7 L1589 1214.2 L1588.2 1201.7 L1587.6 1189.2 L1587 1176.7 L1586.6 1164.2 L1586.2 1151.7 L1585.9 1139.1 L1585.7 1126.6 L1585.5 1114 L1585.5 1101.5 L1585.5 1089 L1585.7 1076.4 L1585.9 1063.9 L1586.2 1051.3 L1586.6 1038.8 L1587 1026.3 L1587.6 1013.8 L1588.2 1001.3 L1589 988.8 L1589.8 976.3 L1590.7 963.9 L1591.7 951.4 L1592.8 939 L1593.9 926.6 L1595.2 914.2 L1596.5 901.8 L1597.9 889.5 L1599.4 877.2 L1601 864.9 L1602.7 852.6 L1604.5 840.4 L1606.4 828.2 L1608.3 816 L1610.4 803.9 L1612.5 791.8 L1614.7 779.7 L1617 767.7 L1619.4 755.7 L1621.9 743.7 L1624.5 731.9 L1627.1 720 L1629.9 708.2 L1632.8 696.4 L1635.7 684.7 L1638.7 673.1 L1641.9 661.5 L1645.1 649.9 L1648.4 638.4 L1651.8 627 L1655.3 615.6 L1658.9 604.3 L1662.6 593.1 L1666.4 581.9 L1670.3 570.8 L1674.3 559.8 L1678.4 548.8 L1682.6 537.9 L1686.9 527.1 L1691.3 516.3 L1695.8 505.7 L1700.4 495.1 L1705.1 484.6 L1709.9 474.2 L1714.9 463.9 L1719.9 453.6 L1725.1 443.5 L1730.4 433.4 L1735.8 423.5 L1741.3 413.6 L1746.9 403.9 L1752.7 394.3 L1758.6 384.7 L1764.6 375.3 L1770.8 366 L1777.1 356.8 L1783.6 347.8 L1790.2 338.8 L1797 330 L1803.9 321.4 L1811 312.8 L1818.3 304.4 L1825.8 296.2 L1833.4 288.1 L1841.3 280.2 L1849.4 272.4 L1857.7 264.8 L1866.3 257.4 L1875.2 250.2 L1884.4 243.2 L1893.9 236.4 L1903.8 229.9 L1914.1 223.5 L1924.9 217.5 L1936.3 211.7 L1948.4 206.3 L1961.3 201.2 L1975.5 196.5 L1991.5 192.3 L2010.5 188.8 L2043 186.5"/>
<path d="M2043 2016.5 L1978 2014.2 L1939.9 2010.7 L1908 2006.5 L1879.7 2001.8 L1853.7 1996.7 L1829.5 1991.3 L1806.8 1985.5 L1785.2 1979.5 L1764.5 1973.1 L1744.8 1966.6 L1725.7 1959.8 L1707.4 1952.8 L1689.6 1945.6 L1672.5 1938.2 L1655.8 1930.6 L1639.6 1922.8 L1623.9 1914.9 L1608.5 1906.8 L1593.6 1898.6 L1579 1890.2 L1564.8 1881.6 L1550.9 1873 L1537.4 1864.2 L1524.2 1855.2 L1511.3 1846.2 L1498.6 1837 L1486.3 1827.7 L1474.2 1818.3 L1462.4 1808.7 L1450.9 1799.1 L1439.6 1789.4 L1428.5 1779.5 L1417.7 1769.6 L1407.2 1759.5 L1396.8 1749.4 L1386.7 1739.1 L1376.9 1728.8 L1367.2 1718.4 L1357.8 1707.9 L1348.5 1697.3 L1339.5 1686.7 L1330.7 1675.9 L1322.1 1665.1 L1313.8 1654.2 L1305.6 1643.2 L1297.6 1632.2 L1289.8 1621.1 L1282.2 1609.9 L1274.8 1598.7 L1267.6 1587.4 L1260.6 1576 L1253.8 1564.6 L1247.2 1553.1 L1240.7 1541.5 L1234.5 1529.9 L1228.4 1518.3 L1222.5 1506.6 L1216.8 1494.8 L1211.3 1483 L1206 1471.1 L1200.8 1459.3 L1195.8 1447.3 L1191 1435.3 L1186.4 1423.3 L1182 1411.2 L1177.7 1399.1 L1173.6 1387 L1169.7 1374.8 L1166 1362.6 L1162.5 1350.4 L1159.1 1338.1 L1155.9 1325.8 L1152.9 1313.5 L1150 1301.2 L1147.3 1288.8 L1144.8 1276.4 L1142.5 1264 L1140.4 1251.6 L1138.4 1239.1 L1136.6 1226.7 L1134.9 1214.2 L1133.5 1201.7 L1132.2 1189.2 L1131.1 1176.7 L1130.1 1164.2 L1129.3 1151.7 L1128.7 1139.1 L1128.3 1126.6 L1128.1 1114 L1128 1101.5 L1128.1 1089 L1128.3 1076.4 L1128.7 1063.9 L1129.3 1051.3 L1130.1 1038.8 L1131.1 1026.3 L1132.2 1013.8 L1133.5 1001.3 L1134.9 988.8 L1136.6 976.3 L1138.4 963.9 L1140.4 951.4 L1142.5 939 L1144.8 926.6 L1147.3 914.2 L1150 901.8 L1152.9 889.5 L1155.9 877.2 L1159.1 864.9 L1162.5 852.6 L1166 840.4 L1169.7 828.2 L1173.6 816 L1177.7 803.9 L1182 791.8 L1186.4 779.7 L1191 767.7 L1195.8 755.7 L1200.8 743.7 L1206 731.9 L1211.3 720 L1216.8 708.2 L1222.5 696.4 L1228.4 684.7 L1234.5 673.1 L1240.7 661.5 L1247.2 649.9 L1253.8 638.4 L1260.6 627 L1267.6 615.6 L1274.8 604.3 L1282.2 593.1 L1289.8 581.9 L1297.6 570.8 L1305.6 559.8 L1313.8 548.8 L1322.1 537.9 L1330.7 527.1 L1339.5 516.3 L1348.5 505.7 L1357.8 495.1 L1367.2 484.6 L1376.9 474.2 L1386.7 463.9 L1396.8 453.6 L1407.2 443.5 L1417.7 433.4 L1428.5 423.5 L1439.6 413.6 L1450.9 403.9 L1462.4 394.3 L1474.2 384.7 L1486.3 375.3 L1498.6 366 L1511.3 356.8 L1524.2 347.8 L1537.4 338.8 L1550.9 330 L1564.8 321.4 L1579 312.8 L1593.6 304.4 L1608.5 296.2 L1623.9 288.1 L1639.6 280.2 L1655.8 272.4 L1672.5 264.8 L1689.6 257.4 L1707.4 250.2 L1725.7 243.2 L1744.8 236.4 L1764.5 229.9 L1785.2 223.5 L1806.8 217.5 L1829.5 211.7 L1853.7 206.3 L1879.7 201.2 L1908 196.5 L1939.9 192.3 L1978 188.8 L2043 186.5"/>
<path d="M2043 2016.5 L1945.5 2014.2 L1888.4 2010.7 L1840.6 2006.5 L1798 2001.8 L1759.1 1996.7 L1722.8 1991.3 L1688.7 1985.5 L1656.2 1979.5 L1625.3 1973.1 L1595.6 1966.6 L1567.1 1959.8 L1539.6 1952.8 L1513 1945.6 L1487.2 1938.2 L1462.2 1930.6 L1437.9 1922.8 L1414.3 1914.9 L1391.3 1906.8 L1368.9 1898.6 L1347 1890.2 L1325.7 1881.6 L1304.9 1873 L1284.6 1864.2 L1264.8 1855.2 L1245.4 1846.2 L1226.4 1837 L1207.9 1827.7 L1189.8 1818.3 L1172.1 1808.7 L1154.8 1799.1 L1137.9 1789.4 L1121.3 1779.5 L1105.1 1769.6 L1089.2 1759.5 L1073.7 1749.4 L1058.6 1739.1 L1043.8 1728.8 L1029.3 1718.4 L1015.1 1707.9 L1001.3 1697.3 L987.8 1686.7 L974.6 1675.9 L961.7 1665.1 L949.1 1654.2 L936.8 1643.2 L924.9 1632.2 L913.2 1621.1 L901.8 1609.9 L890.7 1598.7 L879.9 1587.4 L869.4 1576 L859.2 1564.6 L849.2 1553.1 L839.6 1541.5 L830.2 1529.9 L821.1 1518.3 L812.3 1506.6 L803.7 1494.8 L795.4 1483 L787.4 1471.1 L779.7 1459.3 L772.2 1447.3 L765 1435.3 L758.1 1423.3 L751.5 1411.2 L745.1 1399.1 L739 1387 L733.1 1374.8 L727.5 1362.6 L722.2 1350.4 L717.1 1338.1 L712.3 1325.8 L707.8 1313.5 L703.5 1301.2 L699.5 1288.8 L695.8 1276.4 L692.3 1264 L689 1251.6 L686.1 1239.1 L683.4 1226.7 L680.9 1214.2 L678.7 1201.7 L676.8 1189.2 L675.1 1176.7 L673.7 1164.2 L672.5 1151.7 L671.6 1139.1 L671 1126.6 L670.6 1114 L670.4 1101.5 L670.6 1089 L671 1076.4 L671.6 1063.9 L672.5 1051.3 L673.7 1038.8 L675.1 1026.3 L676.8 1013.8 L678.7 1001.3 L680.9 988.8 L683.4 976.3 L686.1 963.9 L689 951.4 L692.3 939 L695.8 926.6 L699.5 914.2 L703.5 901.8 L707.8 889.5 L712.3 877.2 L717.1 864.9 L722.2 852.6 L727.5 840.4 L733.1 828.2 L739 816 L745.1 803.9 L751.5 791.8 L758.1 779.7 L765 767.7 L772.2 755.7 L779.7 743.7 L787.4 731.9 L795.4 720 L803.7 708.2 L812.3 696.4 L821.1 684.7 L830.2 673.1 L839.6 661.5 L849.2 649.9 L859.2 638.4 L869.4 627 L879.9 615.6 L890.7 604.3 L901.8 593.1 L913.2 581.9 L924.9 570.8 L936.8 559.8 L949.1 548.8 L961.7 537.9 L974.6 527.1 L987.8 516.3 L1001.3 505.7 L1015.1 495.1 L1029.3 484.6 L1043.8 474.2 L1058.6 463.9 L1073.7 453.6 L1089.2 443.5 L1105.1 433.4 L1121.3 423.5 L1137.9 413.6 L1154.8 403.9 L1172.1 394.3 L1189.8 384.7 L1207.9 375.3 L1226.4 366 L1245.4 356.8 L1264.8 347.8 L1284.6 338.8 L1304.9 330 L1325.7 321.4 L1347 312.8 L1368.9 304.4 L1391.3 296.2 L1414.3 288.1 L1437.9 280.2 L1462.2 272.4 L1487.2 264.8 L1513 257.4 L1539.6 250.2 L1567.1 243.2 L1595.6 236.4 L1625.3 229.9 L1656.2 223.5 L1688.7 217.5 L1722.8 211.7 L1759.1 206.3 L1798 201.2 L1840.6 196.5 L1888.4 192.3 L1945.5 188.8 L2043 186.5"/>
</g>
<g fill="#b0b0b0" fill-opacity="0.5" shape-rendering="crispEdges"><rect x="858.7" y="1796" width="2368.6" height="7"/><rect x="368.9" y="1468" width="3348.2" height="7"/><rect x="212.9" y="1098" width="3660.1" height="7"/><rect x="368.9" y="728" width="3348.2" height="7"/><rect x="858.7" y="400" width="2368.6" height="7"/><rect x="2040" y="186.5" width="7" height="1830.1"/></g>
</g>
<ellipse cx="2042.60" cy="1100.95" rx="1829.80" ry="914.65" fill="none" stroke="#000" stroke-width="6.67"/>
<g fill="#000" shape-rendering="crispEdges">
<rect x="3412" y="1101" width="7" height="30"/>
<rect x="2955" y="1101" width="7" height="30"/>
<rect x="2497" y="1101" width="7" height="30"/>
<rect x="2040" y="1101" width="7" height="30"/>
<rect x="1582" y="1101" width="7" height="30"/>
<rect x="1124" y="1101" width="7" height="30"/>
<rect x="667" y="1101" width="7" height="30"/>
<rect x="340" y="1468" width="30" height="7"/>
<rect x="830" y="1796" width="30" height="7"/>
</g>
<g><text transform="translate(0 338.80) scale(1.0166 1)" x="712.01 764.16 817.69" font-size="88.50">60°</text>
<text transform="translate(0 708.00) scale(0.9882 1)" x="170.54 224.07 278.94" font-size="88.50">30°</text>
<text transform="translate(0 1124.70) scale(1.0101 1)" x="60.42 114.25" font-size="88.50">0°</text>
<text transform="translate(0 1537.20) scale(0.9927 1)" x="136.74 168.81 222.10 276.75" font-size="88.50">-30°</text>
<text transform="translate(0 1905.90) scale(1.0164 1)" x="686.75 717.73 769.90 823.43" font-size="88.50">-60°</text>
<text transform="translate(0 338.80) scale(1.0166 1)" x="3165.22 3217.37 3270.89" font-size="88.50">60°</text>
<text transform="translate(0 679.80) scale(0.9882 1)" x="3791.79 3845.33 3900.19" font-size="88.50">30°</text>
<text transform="translate(0 1045.60) scale(1.0101 1)" x="3880.23 3934.05" font-size="88.50">0°</text>
<text transform="translate(0 1537.20) scale(0.9927 1)" x="3800.75 3832.82 3886.12 3940.76" font-size="88.50">-30°</text>
<text transform="translate(0 1905.90) scale(1.0164 1)" x="3159.28 3190.26 3242.43 3295.96" font-size="88.50">-60°</text>
<text transform="translate(0 1223.50) scale(0.9926 1)" x="172.47" font-size="88.50">0</text>
<text transform="translate(0 1190.30) scale(1.0348 1)" x="216.14" font-size="61.20">h</text>
<text transform="translate(0 1223.50) scale(0.9525 1)" x="632.12 688.51" font-size="88.50">21</text>
<text transform="translate(0 1190.30) scale(1.0348 1)" x="683.90" font-size="61.20">h</text>
<text transform="translate(0 1223.50) scale(0.9768 1)" x="1084.79 1139.51" font-size="88.50">18</text>
<text transform="translate(0 1190.30) scale(1.0348 1)" x="1126.03" font-size="61.20">h</text>
<text transform="translate(0 1223.50) scale(0.9421 1)" x="1611.35 1667.70" font-size="88.50">15</text>
<text transform="translate(0 1190.30) scale(1.0348 1)" x="1568.17" font-size="61.20">h</text>
<text transform="translate(0 1223.50) scale(0.9525 1)" x="2073.84 2128.77" font-size="88.50">12</text>
<text transform="translate(0 1190.30) scale(1.0348 1)" x="2010.30" font-size="61.20">h</text>
<text transform="translate(0 1223.50) scale(1.0252 1)" x="2397.24" font-size="88.50">9</text>
<text transform="translate(0 1190.30) scale(1.0348 1)" x="2426.82" font-size="61.20">h</text>
<text transform="translate(0 1223.50) scale(1.0273 1)" x="2837.94" font-size="88.50">6</text>
<text transform="translate(0 1190.30) scale(1.0348 1)" x="2868.96" font-size="61.20">h</text>
<text transform="translate(0 1223.50) scale(0.9533 1)" x="3540.40" font-size="88.50">3</text>
<text transform="translate(0 1190.30) scale(1.0348 1)" x="3311.09" font-size="61.20">h</text>
<text transform="translate(0 1223.50) scale(0.9926 1)" x="3859.93" font-size="88.50">0</text>
<text transform="translate(0 1190.30) scale(1.0348 1)" x="3753.23" font-size="61.20">h</text>
<text transform="translate(0 135.70) scale(0.9792 1)" x="744.03 825.29 928.29 993.47 1058.77 1123.35 1188.72 1253.83 1311.95 1369.21 1434.71 1499.29 1564.65 1629.64 1694.60 1757.06 1789.06 1819.14 1888.50 1949.56 2010.37 2047.17 2113.20 2149.85 2184.77 2248.93 2312.72 2344.72 2373.78 2444.82 2506.81 2565.00 2592.76 2654.27 2708.80 2771.79 2834.31 2870.37 2936.94 2975.38 3039.66 3100.90 3136.35 3199.79 3232.44 3297.42 3363.74" font-size="106.00">GW190503_185404, Sector 12, Enclosed prob 0.228</text></g>
</svg>
</body>
</html>
